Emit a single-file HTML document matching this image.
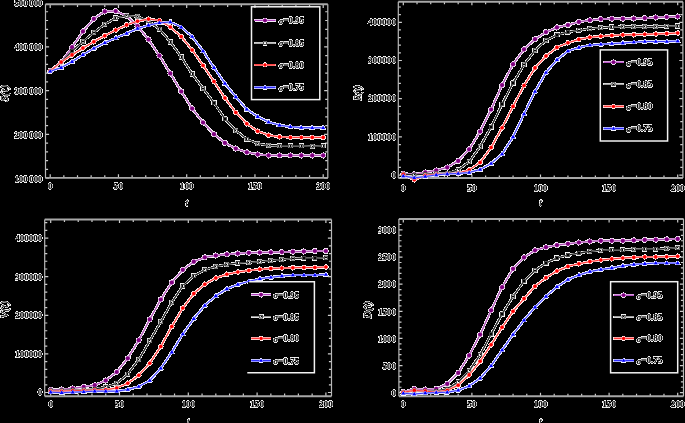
<!DOCTYPE html><html><head><meta charset="utf-8"><style>html,body{margin:0;padding:0;background:#000;width:685px;height:423px;overflow:hidden}svg{display:block}text{font-family:"Liberation Serif",serif}</style></head><body>
<svg width="685" height="423" viewBox="0 0 685 423">
<defs><filter id="wt" x="0" y="0" width="685" height="423" filterUnits="userSpaceOnUse" color-interpolation-filters="sRGB"><feColorMatrix in="SourceGraphic" type="matrix" values="0 0 0 0 0 0 0 0 0 0 0 0 0 0 0 -1000 -1000 -1000 0 3000" result="m"/><feComposite in="SourceGraphic" in2="m" operator="in"/></filter></defs>
<rect width="685" height="423" fill="#000"/>
<path d="M50.2,177.9v-3.6M50.2,4.3v3.6M63.85,177.9v-2.6M63.85,4.3v2.6M77.5,177.9v-2.6M77.5,4.3v2.6M91.15,177.9v-2.6M91.15,4.3v2.6M104.8,177.9v-2.6M104.8,4.3v2.6M118.45,177.9v-3.6M118.45,4.3v3.6M132.1,177.9v-2.6M132.1,4.3v2.6M145.75,177.9v-2.6M145.75,4.3v2.6M159.4,177.9v-2.6M159.4,4.3v2.6M173.05,177.9v-2.6M173.05,4.3v2.6M186.7,177.9v-3.6M186.7,4.3v3.6M200.35,177.9v-2.6M200.35,4.3v2.6M214,177.9v-2.6M214,4.3v2.6M227.65,177.9v-2.6M227.65,4.3v2.6M241.3,177.9v-2.6M241.3,4.3v2.6M254.95,177.9v-3.6M254.95,4.3v3.6M268.6,177.9v-2.6M268.6,4.3v2.6M282.25,177.9v-2.6M282.25,4.3v2.6M295.9,177.9v-2.6M295.9,4.3v2.6M309.55,177.9v-2.6M309.55,4.3v2.6M323.2,177.9v-3.6M323.2,4.3v3.6M45.5,178.2h3.6M327.8,178.2h-3.6M45.5,169.44h2.6M327.8,169.44h-2.6M45.5,160.68h2.6M327.8,160.68h-2.6M45.5,151.92h2.6M327.8,151.92h-2.6M45.5,143.16h2.6M327.8,143.16h-2.6M45.5,134.4h3.6M327.8,134.4h-3.6M45.5,125.64h2.6M327.8,125.64h-2.6M45.5,116.88h2.6M327.8,116.88h-2.6M45.5,108.12h2.6M327.8,108.12h-2.6M45.5,99.36h2.6M327.8,99.36h-2.6M45.5,90.6h3.6M327.8,90.6h-3.6M45.5,81.84h2.6M327.8,81.84h-2.6M45.5,73.08h2.6M327.8,73.08h-2.6M45.5,64.32h2.6M327.8,64.32h-2.6M45.5,55.56h2.6M327.8,55.56h-2.6M45.5,46.8h3.6M327.8,46.8h-3.6M45.5,38.04h2.6M327.8,38.04h-2.6M45.5,29.28h2.6M327.8,29.28h-2.6M45.5,20.52h2.6M327.8,20.52h-2.6M45.5,11.76h2.6M327.8,11.76h-2.6" stroke="#cccccc" stroke-width="1.2" fill="none"/>
<path d="M45.5,4.3H327.8M45.5,177.9H327.8" stroke="#a8a8a8" stroke-width="1.9" fill="none"/>
<path d="M45.5,4.3V177.9M327.8,4.3V177.9" stroke="#b8b8b8" stroke-width="1.2" fill="none"/>
<path d="M403.3,178v-3.6M403.3,1.7v3.6M417.02,178v-2.6M417.02,1.7v2.6M430.74,178v-2.6M430.74,1.7v2.6M444.46,178v-2.6M444.46,1.7v2.6M458.18,178v-2.6M458.18,1.7v2.6M471.9,178v-3.6M471.9,1.7v3.6M485.62,178v-2.6M485.62,1.7v2.6M499.34,178v-2.6M499.34,1.7v2.6M513.06,178v-2.6M513.06,1.7v2.6M526.78,178v-2.6M526.78,1.7v2.6M540.5,178v-3.6M540.5,1.7v3.6M554.22,178v-2.6M554.22,1.7v2.6M567.94,178v-2.6M567.94,1.7v2.6M581.66,178v-2.6M581.66,1.7v2.6M595.38,178v-2.6M595.38,1.7v2.6M609.1,178v-3.6M609.1,1.7v3.6M622.82,178v-2.6M622.82,1.7v2.6M636.54,178v-2.6M636.54,1.7v2.6M650.26,178v-2.6M650.26,1.7v2.6M663.98,178v-2.6M663.98,1.7v2.6M677.7,178v-3.6M677.7,1.7v3.6M398.3,175.1h3.6M682.9,175.1h-3.6M398.3,167.46h2.6M682.9,167.46h-2.6M398.3,159.82h2.6M682.9,159.82h-2.6M398.3,152.18h2.6M682.9,152.18h-2.6M398.3,144.54h2.6M682.9,144.54h-2.6M398.3,136.9h3.6M682.9,136.9h-3.6M398.3,129.26h2.6M682.9,129.26h-2.6M398.3,121.62h2.6M682.9,121.62h-2.6M398.3,113.98h2.6M682.9,113.98h-2.6M398.3,106.34h2.6M682.9,106.34h-2.6M398.3,98.7h3.6M682.9,98.7h-3.6M398.3,91.06h2.6M682.9,91.06h-2.6M398.3,83.42h2.6M682.9,83.42h-2.6M398.3,75.78h2.6M682.9,75.78h-2.6M398.3,68.14h2.6M682.9,68.14h-2.6M398.3,60.5h3.6M682.9,60.5h-3.6M398.3,52.86h2.6M682.9,52.86h-2.6M398.3,45.22h2.6M682.9,45.22h-2.6M398.3,37.58h2.6M682.9,37.58h-2.6M398.3,29.94h2.6M682.9,29.94h-2.6M398.3,22.3h3.6M682.9,22.3h-3.6M398.3,14.66h2.6M682.9,14.66h-2.6M398.3,7.02h2.6M682.9,7.02h-2.6" stroke="#cccccc" stroke-width="1.2" fill="none"/>
<path d="M398.3,1.7H682.9M398.3,178H682.9" stroke="#a8a8a8" stroke-width="1.9" fill="none"/>
<path d="M398.3,1.7V178M682.9,1.7V178" stroke="#b8b8b8" stroke-width="1.2" fill="none"/>
<path d="M50.7,396.2v-3.6M50.7,219.5v3.6M64.46,396.2v-2.6M64.46,219.5v2.6M78.22,396.2v-2.6M78.22,219.5v2.6M91.98,396.2v-2.6M91.98,219.5v2.6M105.74,396.2v-2.6M105.74,219.5v2.6M119.5,396.2v-3.6M119.5,219.5v3.6M133.26,396.2v-2.6M133.26,219.5v2.6M147.02,396.2v-2.6M147.02,219.5v2.6M160.78,396.2v-2.6M160.78,219.5v2.6M174.54,396.2v-2.6M174.54,219.5v2.6M188.3,396.2v-3.6M188.3,219.5v3.6M202.06,396.2v-2.6M202.06,219.5v2.6M215.82,396.2v-2.6M215.82,219.5v2.6M229.58,396.2v-2.6M229.58,219.5v2.6M243.34,396.2v-2.6M243.34,219.5v2.6M257.1,396.2v-3.6M257.1,219.5v3.6M270.86,396.2v-2.6M270.86,219.5v2.6M284.62,396.2v-2.6M284.62,219.5v2.6M298.38,396.2v-2.6M298.38,219.5v2.6M312.14,396.2v-2.6M312.14,219.5v2.6M325.9,396.2v-3.6M325.9,219.5v3.6M44.7,392.5h3.6M331.5,392.5h-3.6M44.7,384.78h2.6M331.5,384.78h-2.6M44.7,377.06h2.6M331.5,377.06h-2.6M44.7,369.34h2.6M331.5,369.34h-2.6M44.7,361.62h2.6M331.5,361.62h-2.6M44.7,353.9h3.6M331.5,353.9h-3.6M44.7,346.18h2.6M331.5,346.18h-2.6M44.7,338.46h2.6M331.5,338.46h-2.6M44.7,330.74h2.6M331.5,330.74h-2.6M44.7,323.02h2.6M331.5,323.02h-2.6M44.7,315.3h3.6M331.5,315.3h-3.6M44.7,307.58h2.6M331.5,307.58h-2.6M44.7,299.86h2.6M331.5,299.86h-2.6M44.7,292.14h2.6M331.5,292.14h-2.6M44.7,284.42h2.6M331.5,284.42h-2.6M44.7,276.7h3.6M331.5,276.7h-3.6M44.7,268.98h2.6M331.5,268.98h-2.6M44.7,261.26h2.6M331.5,261.26h-2.6M44.7,253.54h2.6M331.5,253.54h-2.6M44.7,245.82h2.6M331.5,245.82h-2.6M44.7,238.1h3.6M331.5,238.1h-3.6M44.7,230.38h2.6M331.5,230.38h-2.6M44.7,222.66h2.6M331.5,222.66h-2.6" stroke="#cccccc" stroke-width="1.2" fill="none"/>
<path d="M44.7,219.5H331.5M44.7,396.2H331.5" stroke="#a8a8a8" stroke-width="1.9" fill="none"/>
<path d="M44.7,219.5V396.2M331.5,219.5V396.2" stroke="#b8b8b8" stroke-width="1.2" fill="none"/>
<path d="M403.3,396.3v-3.6M403.3,219v3.6M417.02,396.3v-2.6M417.02,219v2.6M430.74,396.3v-2.6M430.74,219v2.6M444.46,396.3v-2.6M444.46,219v2.6M458.18,396.3v-2.6M458.18,219v2.6M471.9,396.3v-3.6M471.9,219v3.6M485.62,396.3v-2.6M485.62,219v2.6M499.34,396.3v-2.6M499.34,219v2.6M513.06,396.3v-2.6M513.06,219v2.6M526.78,396.3v-2.6M526.78,219v2.6M540.5,396.3v-3.6M540.5,219v3.6M554.22,396.3v-2.6M554.22,219v2.6M567.94,396.3v-2.6M567.94,219v2.6M581.66,396.3v-2.6M581.66,219v2.6M595.38,396.3v-2.6M595.38,219v2.6M609.1,396.3v-3.6M609.1,219v3.6M622.82,396.3v-2.6M622.82,219v2.6M636.54,396.3v-2.6M636.54,219v2.6M650.26,396.3v-2.6M650.26,219v2.6M663.98,396.3v-2.6M663.98,219v2.6M677.7,396.3v-3.6M677.7,219v3.6M398.9,392.7h3.6M683.5,392.7h-3.6M398.9,387.27h2.6M683.5,387.27h-2.6M398.9,381.85h2.6M683.5,381.85h-2.6M398.9,376.42h2.6M683.5,376.42h-2.6M398.9,371h2.6M683.5,371h-2.6M398.9,365.57h3.6M683.5,365.57h-3.6M398.9,360.14h2.6M683.5,360.14h-2.6M398.9,354.72h2.6M683.5,354.72h-2.6M398.9,349.29h2.6M683.5,349.29h-2.6M398.9,343.87h2.6M683.5,343.87h-2.6M398.9,338.44h3.6M683.5,338.44h-3.6M398.9,333.01h2.6M683.5,333.01h-2.6M398.9,327.59h2.6M683.5,327.59h-2.6M398.9,322.16h2.6M683.5,322.16h-2.6M398.9,316.74h2.6M683.5,316.74h-2.6M398.9,311.31h3.6M683.5,311.31h-3.6M398.9,305.88h2.6M683.5,305.88h-2.6M398.9,300.46h2.6M683.5,300.46h-2.6M398.9,295.03h2.6M683.5,295.03h-2.6M398.9,289.61h2.6M683.5,289.61h-2.6M398.9,284.18h3.6M683.5,284.18h-3.6M398.9,278.75h2.6M683.5,278.75h-2.6M398.9,273.33h2.6M683.5,273.33h-2.6M398.9,267.9h2.6M683.5,267.9h-2.6M398.9,262.48h2.6M683.5,262.48h-2.6M398.9,257.05h3.6M683.5,257.05h-3.6M398.9,251.62h2.6M683.5,251.62h-2.6M398.9,246.2h2.6M683.5,246.2h-2.6M398.9,240.77h2.6M683.5,240.77h-2.6M398.9,235.35h2.6M683.5,235.35h-2.6M398.9,229.92h3.6M683.5,229.92h-3.6M398.9,224.49h2.6M683.5,224.49h-2.6M398.9,219.07h2.6M683.5,219.07h-2.6" stroke="#cccccc" stroke-width="1.2" fill="none"/>
<path d="M398.9,219H683.5M398.9,396.3H683.5" stroke="#a8a8a8" stroke-width="1.9" fill="none"/>
<path d="M398.9,219V396.3M683.5,219V396.3" stroke="#b8b8b8" stroke-width="1.2" fill="none"/>
<g filter="url(#wt)">
<rect width="685" height="423" fill="#fff"/>
<text transform="translate(42.5 4) scale(1.0 0.86)" text-anchor="end" font-size="8.8" style="font-weight:bold;" fill="#000" stroke="#909090" stroke-width="0.35" paint-order="stroke" stroke-linejoin="round" dominant-baseline="central">500 000</text>
<text transform="translate(42.5 47.8) scale(1.0 0.86)" text-anchor="end" font-size="8.8" style="font-weight:bold;" fill="#000" stroke="#909090" stroke-width="0.35" paint-order="stroke" stroke-linejoin="round" dominant-baseline="central">400 000</text>
<text transform="translate(42.5 91.6) scale(1.0 0.86)" text-anchor="end" font-size="8.8" style="font-weight:bold;" fill="#000" stroke="#909090" stroke-width="0.35" paint-order="stroke" stroke-linejoin="round" dominant-baseline="central">300 000</text>
<text transform="translate(42.5 135.4) scale(1.0 0.86)" text-anchor="end" font-size="8.8" style="font-weight:bold;" fill="#000" stroke="#909090" stroke-width="0.35" paint-order="stroke" stroke-linejoin="round" dominant-baseline="central">200 000</text>
<text transform="translate(42.5 179.2) scale(1.0 0.86)" text-anchor="end" font-size="8.8" style="font-weight:bold;" fill="#000" stroke="#909090" stroke-width="0.35" paint-order="stroke" stroke-linejoin="round" dominant-baseline="central">100 000</text>
<text transform="translate(50.2 186.75) scale(1.05 0.86)" text-anchor="middle" font-size="8.8" style="font-weight:bold;" fill="#000" stroke="#909090" stroke-width="0.35" paint-order="stroke" stroke-linejoin="round" dominant-baseline="central">0</text>
<text transform="translate(118.45 186.75) scale(1.05 0.86)" text-anchor="middle" font-size="8.8" style="font-weight:bold;" fill="#000" stroke="#909090" stroke-width="0.35" paint-order="stroke" stroke-linejoin="round" dominant-baseline="central">50</text>
<text transform="translate(186.7 186.75) scale(1.05 0.86)" text-anchor="middle" font-size="8.8" style="font-weight:bold;" fill="#000" stroke="#909090" stroke-width="0.35" paint-order="stroke" stroke-linejoin="round" dominant-baseline="central">100</text>
<text transform="translate(254.95 186.75) scale(1.05 0.86)" text-anchor="middle" font-size="8.8" style="font-weight:bold;" fill="#000" stroke="#909090" stroke-width="0.35" paint-order="stroke" stroke-linejoin="round" dominant-baseline="central">150</text>
<text transform="translate(323.2 186.75) scale(1.05 0.86)" text-anchor="middle" font-size="8.8" style="font-weight:bold;" fill="#000" stroke="#909090" stroke-width="0.35" paint-order="stroke" stroke-linejoin="round" dominant-baseline="central">200</text>
<text transform="translate(186.7 203.2) scale(1.0 1.0)" text-anchor="middle" font-size="9.5" style="font-style:italic;" fill="#000" stroke="#909090" stroke-width="0.35" paint-order="stroke" stroke-linejoin="round" dominant-baseline="central">t</text>
<text transform="translate(4 93.4) rotate(-90) scale(1.0 1.0)" text-anchor="middle" font-size="10.5" style="font-style:italic;" fill="#000" stroke="#909090" stroke-width="0.35" paint-order="stroke" stroke-linejoin="round" textLength="16.8" lengthAdjust="spacingAndGlyphs" dominant-baseline="central">S(t)</text>
<text transform="translate(396.1 22.25) scale(1.07 0.86)" text-anchor="end" font-size="8.8" style="font-weight:bold;" fill="#000" stroke="#909090" stroke-width="0.35" paint-order="stroke" stroke-linejoin="round" dominant-baseline="central">400000</text>
<text transform="translate(396.1 60.45) scale(1.07 0.86)" text-anchor="end" font-size="8.8" style="font-weight:bold;" fill="#000" stroke="#909090" stroke-width="0.35" paint-order="stroke" stroke-linejoin="round" dominant-baseline="central">300000</text>
<text transform="translate(396.1 98.65) scale(1.07 0.86)" text-anchor="end" font-size="8.8" style="font-weight:bold;" fill="#000" stroke="#909090" stroke-width="0.35" paint-order="stroke" stroke-linejoin="round" dominant-baseline="central">200000</text>
<text transform="translate(396.1 136.85) scale(1.07 0.86)" text-anchor="end" font-size="8.8" style="font-weight:bold;" fill="#000" stroke="#909090" stroke-width="0.35" paint-order="stroke" stroke-linejoin="round" dominant-baseline="central">100000</text>
<text transform="translate(396.1 175.05) scale(1.07 0.86)" text-anchor="end" font-size="8.8" style="font-weight:bold;" fill="#000" stroke="#909090" stroke-width="0.35" paint-order="stroke" stroke-linejoin="round" dominant-baseline="central">0</text>
<text transform="translate(403.3 187.9) scale(1.05 0.86)" text-anchor="middle" font-size="8.8" style="font-weight:bold;" fill="#000" stroke="#909090" stroke-width="0.35" paint-order="stroke" stroke-linejoin="round" dominant-baseline="central">0</text>
<text transform="translate(471.9 187.9) scale(1.05 0.86)" text-anchor="middle" font-size="8.8" style="font-weight:bold;" fill="#000" stroke="#909090" stroke-width="0.35" paint-order="stroke" stroke-linejoin="round" dominant-baseline="central">50</text>
<text transform="translate(540.5 187.9) scale(1.05 0.86)" text-anchor="middle" font-size="8.8" style="font-weight:bold;" fill="#000" stroke="#909090" stroke-width="0.35" paint-order="stroke" stroke-linejoin="round" dominant-baseline="central">100</text>
<text transform="translate(609.1 187.9) scale(1.05 0.86)" text-anchor="middle" font-size="8.8" style="font-weight:bold;" fill="#000" stroke="#909090" stroke-width="0.35" paint-order="stroke" stroke-linejoin="round" dominant-baseline="central">150</text>
<text transform="translate(677.7 187.9) scale(1.05 0.86)" text-anchor="middle" font-size="8.8" style="font-weight:bold;" fill="#000" stroke="#909090" stroke-width="0.35" paint-order="stroke" stroke-linejoin="round" dominant-baseline="central">200</text>
<text transform="translate(540.5 203.3) scale(1.0 1.0)" text-anchor="middle" font-size="9.5" style="font-style:italic;" fill="#000" stroke="#909090" stroke-width="0.35" paint-order="stroke" stroke-linejoin="round" dominant-baseline="central">t</text>
<text transform="translate(357.6 93) rotate(-90) scale(1.0 1.0)" text-anchor="middle" font-size="10.5" style="font-style:italic;" fill="#000" stroke="#909090" stroke-width="0.35" paint-order="stroke" stroke-linejoin="round" textLength="15.2" lengthAdjust="spacingAndGlyphs" dominant-baseline="central">R(t)</text>
<text transform="translate(42.3 238.7) scale(1.03 0.86)" text-anchor="end" font-size="8.8" style="font-weight:bold;" fill="#000" stroke="#909090" stroke-width="0.35" paint-order="stroke" stroke-linejoin="round" dominant-baseline="central">400000</text>
<text transform="translate(42.3 277.3) scale(1.03 0.86)" text-anchor="end" font-size="8.8" style="font-weight:bold;" fill="#000" stroke="#909090" stroke-width="0.35" paint-order="stroke" stroke-linejoin="round" dominant-baseline="central">300000</text>
<text transform="translate(42.3 315.9) scale(1.03 0.86)" text-anchor="end" font-size="8.8" style="font-weight:bold;" fill="#000" stroke="#909090" stroke-width="0.35" paint-order="stroke" stroke-linejoin="round" dominant-baseline="central">200000</text>
<text transform="translate(42.3 354.5) scale(1.03 0.86)" text-anchor="end" font-size="8.8" style="font-weight:bold;" fill="#000" stroke="#909090" stroke-width="0.35" paint-order="stroke" stroke-linejoin="round" dominant-baseline="central">100000</text>
<text transform="translate(42.3 393.1) scale(1.03 0.86)" text-anchor="end" font-size="8.8" style="font-weight:bold;" fill="#000" stroke="#909090" stroke-width="0.35" paint-order="stroke" stroke-linejoin="round" dominant-baseline="central">0</text>
<text transform="translate(50.7 403.9) scale(1.05 0.86)" text-anchor="middle" font-size="8.8" style="font-weight:bold;" fill="#000" stroke="#909090" stroke-width="0.35" paint-order="stroke" stroke-linejoin="round" dominant-baseline="central">0</text>
<text transform="translate(119.5 403.9) scale(1.05 0.86)" text-anchor="middle" font-size="8.8" style="font-weight:bold;" fill="#000" stroke="#909090" stroke-width="0.35" paint-order="stroke" stroke-linejoin="round" dominant-baseline="central">50</text>
<text transform="translate(188.3 403.9) scale(1.05 0.86)" text-anchor="middle" font-size="8.8" style="font-weight:bold;" fill="#000" stroke="#909090" stroke-width="0.35" paint-order="stroke" stroke-linejoin="round" dominant-baseline="central">100</text>
<text transform="translate(257.1 403.9) scale(1.05 0.86)" text-anchor="middle" font-size="8.8" style="font-weight:bold;" fill="#000" stroke="#909090" stroke-width="0.35" paint-order="stroke" stroke-linejoin="round" dominant-baseline="central">150</text>
<text transform="translate(325.9 403.9) scale(1.05 0.86)" text-anchor="middle" font-size="8.8" style="font-weight:bold;" fill="#000" stroke="#909090" stroke-width="0.35" paint-order="stroke" stroke-linejoin="round" dominant-baseline="central">200</text>
<text transform="translate(188.3 421.5) scale(1.0 1.0)" text-anchor="middle" font-size="9.5" style="font-style:italic;" fill="#000" stroke="#909090" stroke-width="0.35" paint-order="stroke" stroke-linejoin="round" dominant-baseline="central">t</text>
<text transform="translate(4.7 309.65) rotate(-90) scale(1.0 1.0)" text-anchor="middle" font-size="10.5" style="font-style:italic;" fill="#000" stroke="#909090" stroke-width="0.35" paint-order="stroke" stroke-linejoin="round" textLength="17.5" lengthAdjust="spacingAndGlyphs" dominant-baseline="central">V(t)</text>
<text transform="translate(395.9 230.92) scale(1.0 0.86)" text-anchor="end" font-size="8.8" style="font-weight:bold;" fill="#000" stroke="#909090" stroke-width="0.35" paint-order="stroke" stroke-linejoin="round" dominant-baseline="central">3000</text>
<text transform="translate(395.9 258.05) scale(1.0 0.86)" text-anchor="end" font-size="8.8" style="font-weight:bold;" fill="#000" stroke="#909090" stroke-width="0.35" paint-order="stroke" stroke-linejoin="round" dominant-baseline="central">2500</text>
<text transform="translate(395.9 285.18) scale(1.0 0.86)" text-anchor="end" font-size="8.8" style="font-weight:bold;" fill="#000" stroke="#909090" stroke-width="0.35" paint-order="stroke" stroke-linejoin="round" dominant-baseline="central">2000</text>
<text transform="translate(395.9 312.31) scale(1.0 0.86)" text-anchor="end" font-size="8.8" style="font-weight:bold;" fill="#000" stroke="#909090" stroke-width="0.35" paint-order="stroke" stroke-linejoin="round" dominant-baseline="central">1500</text>
<text transform="translate(395.9 339.44) scale(1.0 0.86)" text-anchor="end" font-size="8.8" style="font-weight:bold;" fill="#000" stroke="#909090" stroke-width="0.35" paint-order="stroke" stroke-linejoin="round" dominant-baseline="central">1000</text>
<text transform="translate(395.9 366.57) scale(1.0 0.86)" text-anchor="end" font-size="8.8" style="font-weight:bold;" fill="#000" stroke="#909090" stroke-width="0.35" paint-order="stroke" stroke-linejoin="round" dominant-baseline="central">500</text>
<text transform="translate(395.9 393.7) scale(1.0 0.86)" text-anchor="end" font-size="8.8" style="font-weight:bold;" fill="#000" stroke="#909090" stroke-width="0.35" paint-order="stroke" stroke-linejoin="round" dominant-baseline="central">0</text>
<text transform="translate(403.3 404.1) scale(1.05 0.86)" text-anchor="middle" font-size="8.8" style="font-weight:bold;" fill="#000" stroke="#909090" stroke-width="0.35" paint-order="stroke" stroke-linejoin="round" dominant-baseline="central">0</text>
<text transform="translate(471.9 404.1) scale(1.05 0.86)" text-anchor="middle" font-size="8.8" style="font-weight:bold;" fill="#000" stroke="#909090" stroke-width="0.35" paint-order="stroke" stroke-linejoin="round" dominant-baseline="central">50</text>
<text transform="translate(540.5 404.1) scale(1.05 0.86)" text-anchor="middle" font-size="8.8" style="font-weight:bold;" fill="#000" stroke="#909090" stroke-width="0.35" paint-order="stroke" stroke-linejoin="round" dominant-baseline="central">100</text>
<text transform="translate(609.1 404.1) scale(1.05 0.86)" text-anchor="middle" font-size="8.8" style="font-weight:bold;" fill="#000" stroke="#909090" stroke-width="0.35" paint-order="stroke" stroke-linejoin="round" dominant-baseline="central">150</text>
<text transform="translate(677.7 404.1) scale(1.05 0.86)" text-anchor="middle" font-size="8.8" style="font-weight:bold;" fill="#000" stroke="#909090" stroke-width="0.35" paint-order="stroke" stroke-linejoin="round" dominant-baseline="central">200</text>
<text transform="translate(540.5 421.6) scale(1.0 1.0)" text-anchor="middle" font-size="9.5" style="font-style:italic;" fill="#000" stroke="#909090" stroke-width="0.35" paint-order="stroke" stroke-linejoin="round" dominant-baseline="central">t</text>
<text transform="translate(367.6 309.9) rotate(-90) scale(1.0 1.0)" text-anchor="middle" font-size="10.5" style="font-style:italic;" fill="#000" stroke="#909090" stroke-width="0.35" paint-order="stroke" stroke-linejoin="round" textLength="17.2" lengthAdjust="spacingAndGlyphs" dominant-baseline="central">D(t)</text>
<path d="M50.2,70.9 L61.12,62.1 L72.04,47.2 L82.96,31.4 L93.88,18.8 L104.8,11.4 L115.72,11.1 L126.64,16 L137.56,26.1 L148.48,39.5 L159.4,55.7 L170.32,73.4 L181.24,91.5 L192.16,108.6 L203.08,122.5 L214,134.2 L224.92,142.9 L235.84,148.6 L246.76,152.3 L257.68,154.4 L268.6,155.4 L279.52,155.4 L290.44,155.4 L301.36,155.4 L312.28,155.4 L323.2,155.4" fill="none" stroke="#dcb0e0" stroke-width="1.9" stroke-linejoin="round"/><path d="M50.2,70.9 L61.12,62.1 L72.04,47.2 L82.96,31.4 L93.88,18.8 L104.8,11.4 L115.72,11.1 L126.64,16 L137.56,26.1 L148.48,39.5 L159.4,55.7 L170.32,73.4 L181.24,91.5 L192.16,108.6 L203.08,122.5 L214,134.2 L224.92,142.9 L235.84,148.6 L246.76,152.3 L257.68,154.4 L268.6,155.4 L279.52,155.4 L290.44,155.4 L301.36,155.4 L312.28,155.4 L323.2,155.4" fill="none" stroke="#a848b0" stroke-width="1.0" stroke-linejoin="round"/><circle cx="50.2" cy="70.9" r="2.1" fill="#800080" stroke="#dcb0e0" stroke-width="1.0" paint-order="stroke"/><circle cx="61.12" cy="62.1" r="2.1" fill="#800080" stroke="#dcb0e0" stroke-width="1.0" paint-order="stroke"/><circle cx="72.04" cy="47.2" r="2.1" fill="#800080" stroke="#dcb0e0" stroke-width="1.0" paint-order="stroke"/><circle cx="82.96" cy="31.4" r="2.1" fill="#800080" stroke="#dcb0e0" stroke-width="1.0" paint-order="stroke"/><circle cx="93.88" cy="18.8" r="2.1" fill="#800080" stroke="#dcb0e0" stroke-width="1.0" paint-order="stroke"/><circle cx="104.8" cy="11.4" r="2.1" fill="#800080" stroke="#dcb0e0" stroke-width="1.0" paint-order="stroke"/><circle cx="115.72" cy="11.1" r="2.1" fill="#800080" stroke="#dcb0e0" stroke-width="1.0" paint-order="stroke"/><circle cx="126.64" cy="16" r="2.1" fill="#800080" stroke="#dcb0e0" stroke-width="1.0" paint-order="stroke"/><circle cx="137.56" cy="26.1" r="2.1" fill="#800080" stroke="#dcb0e0" stroke-width="1.0" paint-order="stroke"/><circle cx="148.48" cy="39.5" r="2.1" fill="#800080" stroke="#dcb0e0" stroke-width="1.0" paint-order="stroke"/><circle cx="159.4" cy="55.7" r="2.1" fill="#800080" stroke="#dcb0e0" stroke-width="1.0" paint-order="stroke"/><circle cx="170.32" cy="73.4" r="2.1" fill="#800080" stroke="#dcb0e0" stroke-width="1.0" paint-order="stroke"/><circle cx="181.24" cy="91.5" r="2.1" fill="#800080" stroke="#dcb0e0" stroke-width="1.0" paint-order="stroke"/><circle cx="192.16" cy="108.6" r="2.1" fill="#800080" stroke="#dcb0e0" stroke-width="1.0" paint-order="stroke"/><circle cx="203.08" cy="122.5" r="2.1" fill="#800080" stroke="#dcb0e0" stroke-width="1.0" paint-order="stroke"/><circle cx="214" cy="134.2" r="2.1" fill="#800080" stroke="#dcb0e0" stroke-width="1.0" paint-order="stroke"/><circle cx="224.92" cy="142.9" r="2.1" fill="#800080" stroke="#dcb0e0" stroke-width="1.0" paint-order="stroke"/><circle cx="235.84" cy="148.6" r="2.1" fill="#800080" stroke="#dcb0e0" stroke-width="1.0" paint-order="stroke"/><circle cx="246.76" cy="152.3" r="2.1" fill="#800080" stroke="#dcb0e0" stroke-width="1.0" paint-order="stroke"/><circle cx="257.68" cy="154.4" r="2.1" fill="#800080" stroke="#dcb0e0" stroke-width="1.0" paint-order="stroke"/><circle cx="268.6" cy="155.4" r="2.1" fill="#800080" stroke="#dcb0e0" stroke-width="1.0" paint-order="stroke"/><circle cx="279.52" cy="155.4" r="2.1" fill="#800080" stroke="#dcb0e0" stroke-width="1.0" paint-order="stroke"/><circle cx="290.44" cy="155.4" r="2.1" fill="#800080" stroke="#dcb0e0" stroke-width="1.0" paint-order="stroke"/><circle cx="301.36" cy="155.4" r="2.1" fill="#800080" stroke="#dcb0e0" stroke-width="1.0" paint-order="stroke"/><circle cx="312.28" cy="155.4" r="2.1" fill="#800080" stroke="#dcb0e0" stroke-width="1.0" paint-order="stroke"/><circle cx="323.2" cy="155.4" r="2.1" fill="#800080" stroke="#dcb0e0" stroke-width="1.0" paint-order="stroke"/>
<path d="M50.2,70.9 L61.12,62.1 L72.04,51.1 L82.96,41.5 L93.88,32.5 L104.8,24.3 L115.72,18 L126.64,15.8 L137.56,16.5 L148.48,21 L159.4,29.1 L170.32,42 L181.24,57 L192.16,74 L203.08,88.4 L214,102.9 L224.92,118.9 L235.84,130.6 L246.76,139.1 L257.68,143.7 L268.6,145.4 L279.52,145.9 L290.44,145.9 L301.36,145.9 L312.28,146.3 L323.2,145.9" fill="none" stroke="#a0a0a0" stroke-width="1.6" stroke-linejoin="round"/><path d="M50.2,70.9 L61.12,62.1 L72.04,51.1 L82.96,41.5 L93.88,32.5 L104.8,24.3 L115.72,18 L126.64,15.8 L137.56,16.5 L148.48,21 L159.4,29.1 L170.32,42 L181.24,57 L192.16,74 L203.08,88.4 L214,102.9 L224.92,118.9 L235.84,130.6 L246.76,139.1 L257.68,143.7 L268.6,145.4 L279.52,145.9 L290.44,145.9 L301.36,145.9 L312.28,146.3 L323.2,145.9" fill="none" stroke="#1c1c1c" stroke-width="1.1" stroke-linejoin="round"/><rect x="48.7" y="69.4" width="3" height="3" fill="none" stroke="#a4a4a4" stroke-width="1.2"/><rect x="48.7" y="69.4" width="3" height="3" fill="#fff" stroke="#1c1c1c" stroke-width="0.75"/><rect x="59.62" y="60.6" width="3" height="3" fill="none" stroke="#a4a4a4" stroke-width="1.2"/><rect x="59.62" y="60.6" width="3" height="3" fill="#fff" stroke="#1c1c1c" stroke-width="0.75"/><rect x="70.54" y="49.6" width="3" height="3" fill="none" stroke="#a4a4a4" stroke-width="1.2"/><rect x="70.54" y="49.6" width="3" height="3" fill="#fff" stroke="#1c1c1c" stroke-width="0.75"/><rect x="81.46" y="40" width="3" height="3" fill="none" stroke="#a4a4a4" stroke-width="1.2"/><rect x="81.46" y="40" width="3" height="3" fill="#fff" stroke="#1c1c1c" stroke-width="0.75"/><rect x="92.38" y="31" width="3" height="3" fill="none" stroke="#a4a4a4" stroke-width="1.2"/><rect x="92.38" y="31" width="3" height="3" fill="#fff" stroke="#1c1c1c" stroke-width="0.75"/><rect x="103.3" y="22.8" width="3" height="3" fill="none" stroke="#a4a4a4" stroke-width="1.2"/><rect x="103.3" y="22.8" width="3" height="3" fill="#fff" stroke="#1c1c1c" stroke-width="0.75"/><rect x="114.22" y="16.5" width="3" height="3" fill="none" stroke="#a4a4a4" stroke-width="1.2"/><rect x="114.22" y="16.5" width="3" height="3" fill="#fff" stroke="#1c1c1c" stroke-width="0.75"/><rect x="125.14" y="14.3" width="3" height="3" fill="none" stroke="#a4a4a4" stroke-width="1.2"/><rect x="125.14" y="14.3" width="3" height="3" fill="#fff" stroke="#1c1c1c" stroke-width="0.75"/><rect x="136.06" y="15" width="3" height="3" fill="none" stroke="#a4a4a4" stroke-width="1.2"/><rect x="136.06" y="15" width="3" height="3" fill="#fff" stroke="#1c1c1c" stroke-width="0.75"/><rect x="146.98" y="19.5" width="3" height="3" fill="none" stroke="#a4a4a4" stroke-width="1.2"/><rect x="146.98" y="19.5" width="3" height="3" fill="#fff" stroke="#1c1c1c" stroke-width="0.75"/><rect x="157.9" y="27.6" width="3" height="3" fill="none" stroke="#a4a4a4" stroke-width="1.2"/><rect x="157.9" y="27.6" width="3" height="3" fill="#fff" stroke="#1c1c1c" stroke-width="0.75"/><rect x="168.82" y="40.5" width="3" height="3" fill="none" stroke="#a4a4a4" stroke-width="1.2"/><rect x="168.82" y="40.5" width="3" height="3" fill="#fff" stroke="#1c1c1c" stroke-width="0.75"/><rect x="179.74" y="55.5" width="3" height="3" fill="none" stroke="#a4a4a4" stroke-width="1.2"/><rect x="179.74" y="55.5" width="3" height="3" fill="#fff" stroke="#1c1c1c" stroke-width="0.75"/><rect x="190.66" y="72.5" width="3" height="3" fill="none" stroke="#a4a4a4" stroke-width="1.2"/><rect x="190.66" y="72.5" width="3" height="3" fill="#fff" stroke="#1c1c1c" stroke-width="0.75"/><rect x="201.58" y="86.9" width="3" height="3" fill="none" stroke="#a4a4a4" stroke-width="1.2"/><rect x="201.58" y="86.9" width="3" height="3" fill="#fff" stroke="#1c1c1c" stroke-width="0.75"/><rect x="212.5" y="101.4" width="3" height="3" fill="none" stroke="#a4a4a4" stroke-width="1.2"/><rect x="212.5" y="101.4" width="3" height="3" fill="#fff" stroke="#1c1c1c" stroke-width="0.75"/><rect x="223.42" y="117.4" width="3" height="3" fill="none" stroke="#a4a4a4" stroke-width="1.2"/><rect x="223.42" y="117.4" width="3" height="3" fill="#fff" stroke="#1c1c1c" stroke-width="0.75"/><rect x="234.34" y="129.1" width="3" height="3" fill="none" stroke="#a4a4a4" stroke-width="1.2"/><rect x="234.34" y="129.1" width="3" height="3" fill="#fff" stroke="#1c1c1c" stroke-width="0.75"/><rect x="245.26" y="137.6" width="3" height="3" fill="none" stroke="#a4a4a4" stroke-width="1.2"/><rect x="245.26" y="137.6" width="3" height="3" fill="#fff" stroke="#1c1c1c" stroke-width="0.75"/><rect x="256.18" y="142.2" width="3" height="3" fill="none" stroke="#a4a4a4" stroke-width="1.2"/><rect x="256.18" y="142.2" width="3" height="3" fill="#fff" stroke="#1c1c1c" stroke-width="0.75"/><rect x="267.1" y="143.9" width="3" height="3" fill="none" stroke="#a4a4a4" stroke-width="1.2"/><rect x="267.1" y="143.9" width="3" height="3" fill="#fff" stroke="#1c1c1c" stroke-width="0.75"/><rect x="278.02" y="144.4" width="3" height="3" fill="none" stroke="#a4a4a4" stroke-width="1.2"/><rect x="278.02" y="144.4" width="3" height="3" fill="#fff" stroke="#1c1c1c" stroke-width="0.75"/><rect x="288.94" y="144.4" width="3" height="3" fill="none" stroke="#a4a4a4" stroke-width="1.2"/><rect x="288.94" y="144.4" width="3" height="3" fill="#fff" stroke="#1c1c1c" stroke-width="0.75"/><rect x="299.86" y="144.4" width="3" height="3" fill="none" stroke="#a4a4a4" stroke-width="1.2"/><rect x="299.86" y="144.4" width="3" height="3" fill="#fff" stroke="#1c1c1c" stroke-width="0.75"/><rect x="310.78" y="144.8" width="3" height="3" fill="none" stroke="#a4a4a4" stroke-width="1.2"/><rect x="310.78" y="144.8" width="3" height="3" fill="#fff" stroke="#1c1c1c" stroke-width="0.75"/><rect x="321.7" y="144.4" width="3" height="3" fill="none" stroke="#a4a4a4" stroke-width="1.2"/><rect x="321.7" y="144.4" width="3" height="3" fill="#fff" stroke="#1c1c1c" stroke-width="0.75"/>
<path d="M50.2,70.9 L61.12,62.1 L72.04,54.9 L82.96,48.1 L93.88,41.7 L104.8,35.7 L115.72,30.1 L126.64,24.9 L137.56,21.2 L148.48,19.1 L159.4,20.4 L170.32,27 L181.24,36.6 L192.16,50 L203.08,65.5 L214,81.5 L224.92,98 L235.84,112.5 L246.76,123.7 L257.68,131.2 L268.6,135.2 L279.52,136.9 L290.44,137.4 L301.36,137.4 L312.28,137.4 L323.2,137.4" fill="none" stroke="#ffbcbc" stroke-width="1.9" stroke-linejoin="round"/><path d="M50.2,70.9 L61.12,62.1 L72.04,54.9 L82.96,48.1 L93.88,41.7 L104.8,35.7 L115.72,30.1 L126.64,24.9 L137.56,21.2 L148.48,19.1 L159.4,20.4 L170.32,27 L181.24,36.6 L192.16,50 L203.08,65.5 L214,81.5 L224.92,98 L235.84,112.5 L246.76,123.7 L257.68,131.2 L268.6,135.2 L279.52,136.9 L290.44,137.4 L301.36,137.4 L312.28,137.4 L323.2,137.4" fill="none" stroke="#ff3030" stroke-width="1.0" stroke-linejoin="round"/><circle cx="50.2" cy="70.9" r="1.8" fill="#ff0000" stroke="#ffbcbc" stroke-width="1.0" paint-order="stroke"/><circle cx="61.12" cy="62.1" r="1.8" fill="#ff0000" stroke="#ffbcbc" stroke-width="1.0" paint-order="stroke"/><circle cx="72.04" cy="54.9" r="1.8" fill="#ff0000" stroke="#ffbcbc" stroke-width="1.0" paint-order="stroke"/><circle cx="82.96" cy="48.1" r="1.8" fill="#ff0000" stroke="#ffbcbc" stroke-width="1.0" paint-order="stroke"/><circle cx="93.88" cy="41.7" r="1.8" fill="#ff0000" stroke="#ffbcbc" stroke-width="1.0" paint-order="stroke"/><circle cx="104.8" cy="35.7" r="1.8" fill="#ff0000" stroke="#ffbcbc" stroke-width="1.0" paint-order="stroke"/><circle cx="115.72" cy="30.1" r="1.8" fill="#ff0000" stroke="#ffbcbc" stroke-width="1.0" paint-order="stroke"/><circle cx="126.64" cy="24.9" r="1.8" fill="#ff0000" stroke="#ffbcbc" stroke-width="1.0" paint-order="stroke"/><circle cx="137.56" cy="21.2" r="1.8" fill="#ff0000" stroke="#ffbcbc" stroke-width="1.0" paint-order="stroke"/><circle cx="148.48" cy="19.1" r="1.8" fill="#ff0000" stroke="#ffbcbc" stroke-width="1.0" paint-order="stroke"/><circle cx="159.4" cy="20.4" r="1.8" fill="#ff0000" stroke="#ffbcbc" stroke-width="1.0" paint-order="stroke"/><circle cx="170.32" cy="27" r="1.8" fill="#ff0000" stroke="#ffbcbc" stroke-width="1.0" paint-order="stroke"/><circle cx="181.24" cy="36.6" r="1.8" fill="#ff0000" stroke="#ffbcbc" stroke-width="1.0" paint-order="stroke"/><circle cx="192.16" cy="50" r="1.8" fill="#ff0000" stroke="#ffbcbc" stroke-width="1.0" paint-order="stroke"/><circle cx="203.08" cy="65.5" r="1.8" fill="#ff0000" stroke="#ffbcbc" stroke-width="1.0" paint-order="stroke"/><circle cx="214" cy="81.5" r="1.8" fill="#ff0000" stroke="#ffbcbc" stroke-width="1.0" paint-order="stroke"/><circle cx="224.92" cy="98" r="1.8" fill="#ff0000" stroke="#ffbcbc" stroke-width="1.0" paint-order="stroke"/><circle cx="235.84" cy="112.5" r="1.8" fill="#ff0000" stroke="#ffbcbc" stroke-width="1.0" paint-order="stroke"/><circle cx="246.76" cy="123.7" r="1.8" fill="#ff0000" stroke="#ffbcbc" stroke-width="1.0" paint-order="stroke"/><circle cx="257.68" cy="131.2" r="1.8" fill="#ff0000" stroke="#ffbcbc" stroke-width="1.0" paint-order="stroke"/><circle cx="268.6" cy="135.2" r="1.8" fill="#ff0000" stroke="#ffbcbc" stroke-width="1.0" paint-order="stroke"/><circle cx="279.52" cy="136.9" r="1.8" fill="#ff0000" stroke="#ffbcbc" stroke-width="1.0" paint-order="stroke"/><circle cx="290.44" cy="137.4" r="1.8" fill="#ff0000" stroke="#ffbcbc" stroke-width="1.0" paint-order="stroke"/><circle cx="301.36" cy="137.4" r="1.8" fill="#ff0000" stroke="#ffbcbc" stroke-width="1.0" paint-order="stroke"/><circle cx="312.28" cy="137.4" r="1.8" fill="#ff0000" stroke="#ffbcbc" stroke-width="1.0" paint-order="stroke"/><circle cx="323.2" cy="137.4" r="1.8" fill="#ff0000" stroke="#ffbcbc" stroke-width="1.0" paint-order="stroke"/>
<path d="M50.2,71.3 L61.12,67.7 L72.04,61.7 L82.96,54.7 L93.88,48.3 L104.8,42.8 L115.72,38 L126.64,33.4 L137.56,28.6 L148.48,25.2 L159.4,22.8 L170.32,22 L181.24,27.2 L192.16,36.6 L203.08,51.1 L214,67.7 L224.92,83.4 L235.84,96.9 L246.76,109.3 L257.68,116.7 L268.6,122 L279.52,125.2 L290.44,126.7 L301.36,127.6 L312.28,127.8 L323.2,127.8" fill="none" stroke="#bcbcff" stroke-width="1.9" stroke-linejoin="round"/><path d="M50.2,71.3 L61.12,67.7 L72.04,61.7 L82.96,54.7 L93.88,48.3 L104.8,42.8 L115.72,38 L126.64,33.4 L137.56,28.6 L148.48,25.2 L159.4,22.8 L170.32,22 L181.24,27.2 L192.16,36.6 L203.08,51.1 L214,67.7 L224.92,83.4 L235.84,96.9 L246.76,109.3 L257.68,116.7 L268.6,122 L279.52,125.2 L290.44,126.7 L301.36,127.6 L312.28,127.8 L323.2,127.8" fill="none" stroke="#3838ff" stroke-width="1.0" stroke-linejoin="round"/><polygon points="50.2,69.2 52.2,72.56 48.21,72.56" fill="#0000ff" stroke-linejoin="round" stroke="#bcbcff" stroke-width="1.0" paint-order="stroke"/><polygon points="61.12,65.6 63.12,68.96 59.13,68.96" fill="#0000ff" stroke-linejoin="round" stroke="#bcbcff" stroke-width="1.0" paint-order="stroke"/><polygon points="72.04,59.6 74.04,62.96 70.05,62.96" fill="#0000ff" stroke-linejoin="round" stroke="#bcbcff" stroke-width="1.0" paint-order="stroke"/><polygon points="82.96,52.6 84.96,55.96 80.97,55.96" fill="#0000ff" stroke-linejoin="round" stroke="#bcbcff" stroke-width="1.0" paint-order="stroke"/><polygon points="93.88,46.2 95.88,49.56 91.88,49.56" fill="#0000ff" stroke-linejoin="round" stroke="#bcbcff" stroke-width="1.0" paint-order="stroke"/><polygon points="104.8,40.7 106.8,44.06 102.81,44.06" fill="#0000ff" stroke-linejoin="round" stroke="#bcbcff" stroke-width="1.0" paint-order="stroke"/><polygon points="115.72,35.9 117.72,39.26 113.72,39.26" fill="#0000ff" stroke-linejoin="round" stroke="#bcbcff" stroke-width="1.0" paint-order="stroke"/><polygon points="126.64,31.3 128.63,34.66 124.64,34.66" fill="#0000ff" stroke-linejoin="round" stroke="#bcbcff" stroke-width="1.0" paint-order="stroke"/><polygon points="137.56,26.5 139.56,29.86 135.56,29.86" fill="#0000ff" stroke-linejoin="round" stroke="#bcbcff" stroke-width="1.0" paint-order="stroke"/><polygon points="148.48,23.1 150.48,26.46 146.49,26.46" fill="#0000ff" stroke-linejoin="round" stroke="#bcbcff" stroke-width="1.0" paint-order="stroke"/><polygon points="159.4,20.7 161.4,24.06 157.41,24.06" fill="#0000ff" stroke-linejoin="round" stroke="#bcbcff" stroke-width="1.0" paint-order="stroke"/><polygon points="170.32,19.9 172.31,23.26 168.32,23.26" fill="#0000ff" stroke-linejoin="round" stroke="#bcbcff" stroke-width="1.0" paint-order="stroke"/><polygon points="181.24,25.1 183.24,28.46 179.25,28.46" fill="#0000ff" stroke-linejoin="round" stroke="#bcbcff" stroke-width="1.0" paint-order="stroke"/><polygon points="192.16,34.5 194.16,37.86 190.17,37.86" fill="#0000ff" stroke-linejoin="round" stroke="#bcbcff" stroke-width="1.0" paint-order="stroke"/><polygon points="203.08,49 205.07,52.36 201.08,52.36" fill="#0000ff" stroke-linejoin="round" stroke="#bcbcff" stroke-width="1.0" paint-order="stroke"/><polygon points="214,65.6 216,68.96 212,68.96" fill="#0000ff" stroke-linejoin="round" stroke="#bcbcff" stroke-width="1.0" paint-order="stroke"/><polygon points="224.92,81.3 226.92,84.66 222.93,84.66" fill="#0000ff" stroke-linejoin="round" stroke="#bcbcff" stroke-width="1.0" paint-order="stroke"/><polygon points="235.84,94.8 237.83,98.16 233.84,98.16" fill="#0000ff" stroke-linejoin="round" stroke="#bcbcff" stroke-width="1.0" paint-order="stroke"/><polygon points="246.76,107.2 248.75,110.56 244.76,110.56" fill="#0000ff" stroke-linejoin="round" stroke="#bcbcff" stroke-width="1.0" paint-order="stroke"/><polygon points="257.68,114.6 259.68,117.96 255.69,117.96" fill="#0000ff" stroke-linejoin="round" stroke="#bcbcff" stroke-width="1.0" paint-order="stroke"/><polygon points="268.6,119.9 270.6,123.26 266.61,123.26" fill="#0000ff" stroke-linejoin="round" stroke="#bcbcff" stroke-width="1.0" paint-order="stroke"/><polygon points="279.52,123.1 281.51,126.46 277.52,126.46" fill="#0000ff" stroke-linejoin="round" stroke="#bcbcff" stroke-width="1.0" paint-order="stroke"/><polygon points="290.44,124.6 292.44,127.96 288.44,127.96" fill="#0000ff" stroke-linejoin="round" stroke="#bcbcff" stroke-width="1.0" paint-order="stroke"/><polygon points="301.36,125.5 303.36,128.86 299.37,128.86" fill="#0000ff" stroke-linejoin="round" stroke="#bcbcff" stroke-width="1.0" paint-order="stroke"/><polygon points="312.28,125.7 314.27,129.06 310.28,129.06" fill="#0000ff" stroke-linejoin="round" stroke="#bcbcff" stroke-width="1.0" paint-order="stroke"/><polygon points="323.2,125.7 325.19,129.06 321.2,129.06" fill="#0000ff" stroke-linejoin="round" stroke="#bcbcff" stroke-width="1.0" paint-order="stroke"/>
<path d="M403.3,173.7 L414.28,174.3 L425.25,172.4 L436.23,170.4 L447.2,167.4 L458.18,160.9 L469.16,149.3 L480.13,131.5 L491.11,109.5 L502.08,85.1 L513.06,64.2 L524.04,49.3 L535.01,39.2 L545.99,32.1 L556.96,27.4 L567.94,25 L578.92,21.9 L589.89,20.2 L600.87,19.1 L611.84,18.7 L622.82,18.7 L633.8,18.5 L644.77,18.1 L655.75,17.4 L666.72,17 L677.7,16.6" fill="none" stroke="#dcb0e0" stroke-width="1.9" stroke-linejoin="round"/><path d="M403.3,173.7 L414.28,174.3 L425.25,172.4 L436.23,170.4 L447.2,167.4 L458.18,160.9 L469.16,149.3 L480.13,131.5 L491.11,109.5 L502.08,85.1 L513.06,64.2 L524.04,49.3 L535.01,39.2 L545.99,32.1 L556.96,27.4 L567.94,25 L578.92,21.9 L589.89,20.2 L600.87,19.1 L611.84,18.7 L622.82,18.7 L633.8,18.5 L644.77,18.1 L655.75,17.4 L666.72,17 L677.7,16.6" fill="none" stroke="#a848b0" stroke-width="1.0" stroke-linejoin="round"/><circle cx="403.3" cy="173.7" r="2.1" fill="#800080" stroke="#dcb0e0" stroke-width="1.0" paint-order="stroke"/><circle cx="414.28" cy="174.3" r="2.1" fill="#800080" stroke="#dcb0e0" stroke-width="1.0" paint-order="stroke"/><circle cx="425.25" cy="172.4" r="2.1" fill="#800080" stroke="#dcb0e0" stroke-width="1.0" paint-order="stroke"/><circle cx="436.23" cy="170.4" r="2.1" fill="#800080" stroke="#dcb0e0" stroke-width="1.0" paint-order="stroke"/><circle cx="447.2" cy="167.4" r="2.1" fill="#800080" stroke="#dcb0e0" stroke-width="1.0" paint-order="stroke"/><circle cx="458.18" cy="160.9" r="2.1" fill="#800080" stroke="#dcb0e0" stroke-width="1.0" paint-order="stroke"/><circle cx="469.16" cy="149.3" r="2.1" fill="#800080" stroke="#dcb0e0" stroke-width="1.0" paint-order="stroke"/><circle cx="480.13" cy="131.5" r="2.1" fill="#800080" stroke="#dcb0e0" stroke-width="1.0" paint-order="stroke"/><circle cx="491.11" cy="109.5" r="2.1" fill="#800080" stroke="#dcb0e0" stroke-width="1.0" paint-order="stroke"/><circle cx="502.08" cy="85.1" r="2.1" fill="#800080" stroke="#dcb0e0" stroke-width="1.0" paint-order="stroke"/><circle cx="513.06" cy="64.2" r="2.1" fill="#800080" stroke="#dcb0e0" stroke-width="1.0" paint-order="stroke"/><circle cx="524.04" cy="49.3" r="2.1" fill="#800080" stroke="#dcb0e0" stroke-width="1.0" paint-order="stroke"/><circle cx="535.01" cy="39.2" r="2.1" fill="#800080" stroke="#dcb0e0" stroke-width="1.0" paint-order="stroke"/><circle cx="545.99" cy="32.1" r="2.1" fill="#800080" stroke="#dcb0e0" stroke-width="1.0" paint-order="stroke"/><circle cx="556.96" cy="27.4" r="2.1" fill="#800080" stroke="#dcb0e0" stroke-width="1.0" paint-order="stroke"/><circle cx="567.94" cy="25" r="2.1" fill="#800080" stroke="#dcb0e0" stroke-width="1.0" paint-order="stroke"/><circle cx="578.92" cy="21.9" r="2.1" fill="#800080" stroke="#dcb0e0" stroke-width="1.0" paint-order="stroke"/><circle cx="589.89" cy="20.2" r="2.1" fill="#800080" stroke="#dcb0e0" stroke-width="1.0" paint-order="stroke"/><circle cx="600.87" cy="19.1" r="2.1" fill="#800080" stroke="#dcb0e0" stroke-width="1.0" paint-order="stroke"/><circle cx="611.84" cy="18.7" r="2.1" fill="#800080" stroke="#dcb0e0" stroke-width="1.0" paint-order="stroke"/><circle cx="622.82" cy="18.7" r="2.1" fill="#800080" stroke="#dcb0e0" stroke-width="1.0" paint-order="stroke"/><circle cx="633.8" cy="18.5" r="2.1" fill="#800080" stroke="#dcb0e0" stroke-width="1.0" paint-order="stroke"/><circle cx="644.77" cy="18.1" r="2.1" fill="#800080" stroke="#dcb0e0" stroke-width="1.0" paint-order="stroke"/><circle cx="655.75" cy="17.4" r="2.1" fill="#800080" stroke="#dcb0e0" stroke-width="1.0" paint-order="stroke"/><circle cx="666.72" cy="17" r="2.1" fill="#800080" stroke="#dcb0e0" stroke-width="1.0" paint-order="stroke"/><circle cx="677.7" cy="16.6" r="2.1" fill="#800080" stroke="#dcb0e0" stroke-width="1.0" paint-order="stroke"/>
<path d="M403.3,174.2 L414.28,174.8 L425.25,174.2 L436.23,173.5 L447.2,173.1 L458.18,169.9 L469.16,161.7 L480.13,146.6 L491.11,127 L502.08,104.1 L513.06,83 L524.04,64.6 L535.01,50.4 L545.99,40.4 L556.96,34.9 L567.94,32.1 L578.92,30.2 L589.89,28.7 L600.87,27.7 L611.84,27 L622.82,26.6 L633.8,26.6 L644.77,26.6 L655.75,26.6 L666.72,26.2 L677.7,26" fill="none" stroke="#a0a0a0" stroke-width="1.6" stroke-linejoin="round"/><path d="M403.3,174.2 L414.28,174.8 L425.25,174.2 L436.23,173.5 L447.2,173.1 L458.18,169.9 L469.16,161.7 L480.13,146.6 L491.11,127 L502.08,104.1 L513.06,83 L524.04,64.6 L535.01,50.4 L545.99,40.4 L556.96,34.9 L567.94,32.1 L578.92,30.2 L589.89,28.7 L600.87,27.7 L611.84,27 L622.82,26.6 L633.8,26.6 L644.77,26.6 L655.75,26.6 L666.72,26.2 L677.7,26" fill="none" stroke="#1c1c1c" stroke-width="1.1" stroke-linejoin="round"/><rect x="401.8" y="172.7" width="3" height="3" fill="none" stroke="#a4a4a4" stroke-width="1.2"/><rect x="401.8" y="172.7" width="3" height="3" fill="#fff" stroke="#1c1c1c" stroke-width="0.75"/><rect x="412.78" y="173.3" width="3" height="3" fill="none" stroke="#a4a4a4" stroke-width="1.2"/><rect x="412.78" y="173.3" width="3" height="3" fill="#fff" stroke="#1c1c1c" stroke-width="0.75"/><rect x="423.75" y="172.7" width="3" height="3" fill="none" stroke="#a4a4a4" stroke-width="1.2"/><rect x="423.75" y="172.7" width="3" height="3" fill="#fff" stroke="#1c1c1c" stroke-width="0.75"/><rect x="434.73" y="172" width="3" height="3" fill="none" stroke="#a4a4a4" stroke-width="1.2"/><rect x="434.73" y="172" width="3" height="3" fill="#fff" stroke="#1c1c1c" stroke-width="0.75"/><rect x="445.7" y="171.6" width="3" height="3" fill="none" stroke="#a4a4a4" stroke-width="1.2"/><rect x="445.7" y="171.6" width="3" height="3" fill="#fff" stroke="#1c1c1c" stroke-width="0.75"/><rect x="456.68" y="168.4" width="3" height="3" fill="none" stroke="#a4a4a4" stroke-width="1.2"/><rect x="456.68" y="168.4" width="3" height="3" fill="#fff" stroke="#1c1c1c" stroke-width="0.75"/><rect x="467.66" y="160.2" width="3" height="3" fill="none" stroke="#a4a4a4" stroke-width="1.2"/><rect x="467.66" y="160.2" width="3" height="3" fill="#fff" stroke="#1c1c1c" stroke-width="0.75"/><rect x="478.63" y="145.1" width="3" height="3" fill="none" stroke="#a4a4a4" stroke-width="1.2"/><rect x="478.63" y="145.1" width="3" height="3" fill="#fff" stroke="#1c1c1c" stroke-width="0.75"/><rect x="489.61" y="125.5" width="3" height="3" fill="none" stroke="#a4a4a4" stroke-width="1.2"/><rect x="489.61" y="125.5" width="3" height="3" fill="#fff" stroke="#1c1c1c" stroke-width="0.75"/><rect x="500.58" y="102.6" width="3" height="3" fill="none" stroke="#a4a4a4" stroke-width="1.2"/><rect x="500.58" y="102.6" width="3" height="3" fill="#fff" stroke="#1c1c1c" stroke-width="0.75"/><rect x="511.56" y="81.5" width="3" height="3" fill="none" stroke="#a4a4a4" stroke-width="1.2"/><rect x="511.56" y="81.5" width="3" height="3" fill="#fff" stroke="#1c1c1c" stroke-width="0.75"/><rect x="522.54" y="63.1" width="3" height="3" fill="none" stroke="#a4a4a4" stroke-width="1.2"/><rect x="522.54" y="63.1" width="3" height="3" fill="#fff" stroke="#1c1c1c" stroke-width="0.75"/><rect x="533.51" y="48.9" width="3" height="3" fill="none" stroke="#a4a4a4" stroke-width="1.2"/><rect x="533.51" y="48.9" width="3" height="3" fill="#fff" stroke="#1c1c1c" stroke-width="0.75"/><rect x="544.49" y="38.9" width="3" height="3" fill="none" stroke="#a4a4a4" stroke-width="1.2"/><rect x="544.49" y="38.9" width="3" height="3" fill="#fff" stroke="#1c1c1c" stroke-width="0.75"/><rect x="555.46" y="33.4" width="3" height="3" fill="none" stroke="#a4a4a4" stroke-width="1.2"/><rect x="555.46" y="33.4" width="3" height="3" fill="#fff" stroke="#1c1c1c" stroke-width="0.75"/><rect x="566.44" y="30.6" width="3" height="3" fill="none" stroke="#a4a4a4" stroke-width="1.2"/><rect x="566.44" y="30.6" width="3" height="3" fill="#fff" stroke="#1c1c1c" stroke-width="0.75"/><rect x="577.42" y="28.7" width="3" height="3" fill="none" stroke="#a4a4a4" stroke-width="1.2"/><rect x="577.42" y="28.7" width="3" height="3" fill="#fff" stroke="#1c1c1c" stroke-width="0.75"/><rect x="588.39" y="27.2" width="3" height="3" fill="none" stroke="#a4a4a4" stroke-width="1.2"/><rect x="588.39" y="27.2" width="3" height="3" fill="#fff" stroke="#1c1c1c" stroke-width="0.75"/><rect x="599.37" y="26.2" width="3" height="3" fill="none" stroke="#a4a4a4" stroke-width="1.2"/><rect x="599.37" y="26.2" width="3" height="3" fill="#fff" stroke="#1c1c1c" stroke-width="0.75"/><rect x="610.34" y="25.5" width="3" height="3" fill="none" stroke="#a4a4a4" stroke-width="1.2"/><rect x="610.34" y="25.5" width="3" height="3" fill="#fff" stroke="#1c1c1c" stroke-width="0.75"/><rect x="621.32" y="25.1" width="3" height="3" fill="none" stroke="#a4a4a4" stroke-width="1.2"/><rect x="621.32" y="25.1" width="3" height="3" fill="#fff" stroke="#1c1c1c" stroke-width="0.75"/><rect x="632.3" y="25.1" width="3" height="3" fill="none" stroke="#a4a4a4" stroke-width="1.2"/><rect x="632.3" y="25.1" width="3" height="3" fill="#fff" stroke="#1c1c1c" stroke-width="0.75"/><rect x="643.27" y="25.1" width="3" height="3" fill="none" stroke="#a4a4a4" stroke-width="1.2"/><rect x="643.27" y="25.1" width="3" height="3" fill="#fff" stroke="#1c1c1c" stroke-width="0.75"/><rect x="654.25" y="25.1" width="3" height="3" fill="none" stroke="#a4a4a4" stroke-width="1.2"/><rect x="654.25" y="25.1" width="3" height="3" fill="#fff" stroke="#1c1c1c" stroke-width="0.75"/><rect x="665.22" y="24.7" width="3" height="3" fill="none" stroke="#a4a4a4" stroke-width="1.2"/><rect x="665.22" y="24.7" width="3" height="3" fill="#fff" stroke="#1c1c1c" stroke-width="0.75"/><rect x="676.2" y="24.5" width="3" height="3" fill="none" stroke="#a4a4a4" stroke-width="1.2"/><rect x="676.2" y="24.5" width="3" height="3" fill="#fff" stroke="#1c1c1c" stroke-width="0.75"/>
<path d="M403.3,174.3 L414.28,179.8 L425.25,175.4 L436.23,174.3 L447.2,173.7 L458.18,173.1 L469.16,170 L480.13,162.5 L491.11,147.5 L502.08,127.8 L513.06,106.4 L524.04,85.5 L535.01,67.9 L545.99,56 L556.96,47.4 L567.94,42.8 L578.92,39.4 L589.89,37.2 L600.87,36.2 L611.84,35.5 L622.82,34.9 L633.8,34.7 L644.77,34.3 L655.75,34 L666.72,33.6 L677.7,33" fill="none" stroke="#ffbcbc" stroke-width="1.9" stroke-linejoin="round"/><path d="M403.3,174.3 L414.28,179.8 L425.25,175.4 L436.23,174.3 L447.2,173.7 L458.18,173.1 L469.16,170 L480.13,162.5 L491.11,147.5 L502.08,127.8 L513.06,106.4 L524.04,85.5 L535.01,67.9 L545.99,56 L556.96,47.4 L567.94,42.8 L578.92,39.4 L589.89,37.2 L600.87,36.2 L611.84,35.5 L622.82,34.9 L633.8,34.7 L644.77,34.3 L655.75,34 L666.72,33.6 L677.7,33" fill="none" stroke="#ff3030" stroke-width="1.0" stroke-linejoin="round"/><circle cx="403.3" cy="174.3" r="1.8" fill="#ff0000" stroke="#ffbcbc" stroke-width="1.0" paint-order="stroke"/><circle cx="414.28" cy="179.8" r="1.8" fill="#ff0000" stroke="#ffbcbc" stroke-width="1.0" paint-order="stroke"/><circle cx="425.25" cy="175.4" r="1.8" fill="#ff0000" stroke="#ffbcbc" stroke-width="1.0" paint-order="stroke"/><circle cx="436.23" cy="174.3" r="1.8" fill="#ff0000" stroke="#ffbcbc" stroke-width="1.0" paint-order="stroke"/><circle cx="447.2" cy="173.7" r="1.8" fill="#ff0000" stroke="#ffbcbc" stroke-width="1.0" paint-order="stroke"/><circle cx="458.18" cy="173.1" r="1.8" fill="#ff0000" stroke="#ffbcbc" stroke-width="1.0" paint-order="stroke"/><circle cx="469.16" cy="170" r="1.8" fill="#ff0000" stroke="#ffbcbc" stroke-width="1.0" paint-order="stroke"/><circle cx="480.13" cy="162.5" r="1.8" fill="#ff0000" stroke="#ffbcbc" stroke-width="1.0" paint-order="stroke"/><circle cx="491.11" cy="147.5" r="1.8" fill="#ff0000" stroke="#ffbcbc" stroke-width="1.0" paint-order="stroke"/><circle cx="502.08" cy="127.8" r="1.8" fill="#ff0000" stroke="#ffbcbc" stroke-width="1.0" paint-order="stroke"/><circle cx="513.06" cy="106.4" r="1.8" fill="#ff0000" stroke="#ffbcbc" stroke-width="1.0" paint-order="stroke"/><circle cx="524.04" cy="85.5" r="1.8" fill="#ff0000" stroke="#ffbcbc" stroke-width="1.0" paint-order="stroke"/><circle cx="535.01" cy="67.9" r="1.8" fill="#ff0000" stroke="#ffbcbc" stroke-width="1.0" paint-order="stroke"/><circle cx="545.99" cy="56" r="1.8" fill="#ff0000" stroke="#ffbcbc" stroke-width="1.0" paint-order="stroke"/><circle cx="556.96" cy="47.4" r="1.8" fill="#ff0000" stroke="#ffbcbc" stroke-width="1.0" paint-order="stroke"/><circle cx="567.94" cy="42.8" r="1.8" fill="#ff0000" stroke="#ffbcbc" stroke-width="1.0" paint-order="stroke"/><circle cx="578.92" cy="39.4" r="1.8" fill="#ff0000" stroke="#ffbcbc" stroke-width="1.0" paint-order="stroke"/><circle cx="589.89" cy="37.2" r="1.8" fill="#ff0000" stroke="#ffbcbc" stroke-width="1.0" paint-order="stroke"/><circle cx="600.87" cy="36.2" r="1.8" fill="#ff0000" stroke="#ffbcbc" stroke-width="1.0" paint-order="stroke"/><circle cx="611.84" cy="35.5" r="1.8" fill="#ff0000" stroke="#ffbcbc" stroke-width="1.0" paint-order="stroke"/><circle cx="622.82" cy="34.9" r="1.8" fill="#ff0000" stroke="#ffbcbc" stroke-width="1.0" paint-order="stroke"/><circle cx="633.8" cy="34.7" r="1.8" fill="#ff0000" stroke="#ffbcbc" stroke-width="1.0" paint-order="stroke"/><circle cx="644.77" cy="34.3" r="1.8" fill="#ff0000" stroke="#ffbcbc" stroke-width="1.0" paint-order="stroke"/><circle cx="655.75" cy="34" r="1.8" fill="#ff0000" stroke="#ffbcbc" stroke-width="1.0" paint-order="stroke"/><circle cx="666.72" cy="33.6" r="1.8" fill="#ff0000" stroke="#ffbcbc" stroke-width="1.0" paint-order="stroke"/><circle cx="677.7" cy="33" r="1.8" fill="#ff0000" stroke="#ffbcbc" stroke-width="1.0" paint-order="stroke"/>
<path d="M403.3,176 L414.28,177.8 L425.25,176.6 L436.23,174.9 L447.2,173.9 L458.18,173.5 L469.16,172.5 L480.13,169.5 L491.11,163.5 L502.08,154 L513.06,136.9 L524.04,113.9 L535.01,91.6 L545.99,72.6 L556.96,59.8 L567.94,51.1 L578.92,47.4 L589.89,45.1 L600.87,44.3 L611.84,43.6 L622.82,43 L633.8,42.1 L644.77,41.5 L655.75,41.5 L666.72,41.5 L677.7,41.1" fill="none" stroke="#bcbcff" stroke-width="1.9" stroke-linejoin="round"/><path d="M403.3,176 L414.28,177.8 L425.25,176.6 L436.23,174.9 L447.2,173.9 L458.18,173.5 L469.16,172.5 L480.13,169.5 L491.11,163.5 L502.08,154 L513.06,136.9 L524.04,113.9 L535.01,91.6 L545.99,72.6 L556.96,59.8 L567.94,51.1 L578.92,47.4 L589.89,45.1 L600.87,44.3 L611.84,43.6 L622.82,43 L633.8,42.1 L644.77,41.5 L655.75,41.5 L666.72,41.5 L677.7,41.1" fill="none" stroke="#3838ff" stroke-width="1.0" stroke-linejoin="round"/><polygon points="403.3,173.9 405.3,177.26 401.31,177.26" fill="#0000ff" stroke-linejoin="round" stroke="#bcbcff" stroke-width="1.0" paint-order="stroke"/><polygon points="414.28,175.7 416.27,179.06 412.28,179.06" fill="#0000ff" stroke-linejoin="round" stroke="#bcbcff" stroke-width="1.0" paint-order="stroke"/><polygon points="425.25,174.5 427.25,177.86 423.26,177.86" fill="#0000ff" stroke-linejoin="round" stroke="#bcbcff" stroke-width="1.0" paint-order="stroke"/><polygon points="436.23,172.8 438.22,176.16 434.23,176.16" fill="#0000ff" stroke-linejoin="round" stroke="#bcbcff" stroke-width="1.0" paint-order="stroke"/><polygon points="447.2,171.8 449.2,175.16 445.21,175.16" fill="#0000ff" stroke-linejoin="round" stroke="#bcbcff" stroke-width="1.0" paint-order="stroke"/><polygon points="458.18,171.4 460.18,174.76 456.19,174.76" fill="#0000ff" stroke-linejoin="round" stroke="#bcbcff" stroke-width="1.0" paint-order="stroke"/><polygon points="469.16,170.4 471.15,173.76 467.16,173.76" fill="#0000ff" stroke-linejoin="round" stroke="#bcbcff" stroke-width="1.0" paint-order="stroke"/><polygon points="480.13,167.4 482.13,170.76 478.14,170.76" fill="#0000ff" stroke-linejoin="round" stroke="#bcbcff" stroke-width="1.0" paint-order="stroke"/><polygon points="491.11,161.4 493.1,164.76 489.11,164.76" fill="#0000ff" stroke-linejoin="round" stroke="#bcbcff" stroke-width="1.0" paint-order="stroke"/><polygon points="502.08,151.9 504.08,155.26 500.09,155.26" fill="#0000ff" stroke-linejoin="round" stroke="#bcbcff" stroke-width="1.0" paint-order="stroke"/><polygon points="513.06,134.8 515.06,138.16 511.07,138.16" fill="#0000ff" stroke-linejoin="round" stroke="#bcbcff" stroke-width="1.0" paint-order="stroke"/><polygon points="524.04,111.8 526.03,115.16 522.04,115.16" fill="#0000ff" stroke-linejoin="round" stroke="#bcbcff" stroke-width="1.0" paint-order="stroke"/><polygon points="535.01,89.5 537.01,92.86 533.02,92.86" fill="#0000ff" stroke-linejoin="round" stroke="#bcbcff" stroke-width="1.0" paint-order="stroke"/><polygon points="545.99,70.5 547.98,73.86 543.99,73.86" fill="#0000ff" stroke-linejoin="round" stroke="#bcbcff" stroke-width="1.0" paint-order="stroke"/><polygon points="556.96,57.7 558.96,61.06 554.97,61.06" fill="#0000ff" stroke-linejoin="round" stroke="#bcbcff" stroke-width="1.0" paint-order="stroke"/><polygon points="567.94,49 569.94,52.36 565.95,52.36" fill="#0000ff" stroke-linejoin="round" stroke="#bcbcff" stroke-width="1.0" paint-order="stroke"/><polygon points="578.92,45.3 580.91,48.66 576.92,48.66" fill="#0000ff" stroke-linejoin="round" stroke="#bcbcff" stroke-width="1.0" paint-order="stroke"/><polygon points="589.89,43 591.89,46.36 587.9,46.36" fill="#0000ff" stroke-linejoin="round" stroke="#bcbcff" stroke-width="1.0" paint-order="stroke"/><polygon points="600.87,42.2 602.86,45.56 598.87,45.56" fill="#0000ff" stroke-linejoin="round" stroke="#bcbcff" stroke-width="1.0" paint-order="stroke"/><polygon points="611.84,41.5 613.84,44.86 609.85,44.86" fill="#0000ff" stroke-linejoin="round" stroke="#bcbcff" stroke-width="1.0" paint-order="stroke"/><polygon points="622.82,40.9 624.82,44.26 620.83,44.26" fill="#0000ff" stroke-linejoin="round" stroke="#bcbcff" stroke-width="1.0" paint-order="stroke"/><polygon points="633.8,40 635.79,43.36 631.8,43.36" fill="#0000ff" stroke-linejoin="round" stroke="#bcbcff" stroke-width="1.0" paint-order="stroke"/><polygon points="644.77,39.4 646.77,42.76 642.78,42.76" fill="#0000ff" stroke-linejoin="round" stroke="#bcbcff" stroke-width="1.0" paint-order="stroke"/><polygon points="655.75,39.4 657.74,42.76 653.75,42.76" fill="#0000ff" stroke-linejoin="round" stroke="#bcbcff" stroke-width="1.0" paint-order="stroke"/><polygon points="666.72,39.4 668.72,42.76 664.73,42.76" fill="#0000ff" stroke-linejoin="round" stroke="#bcbcff" stroke-width="1.0" paint-order="stroke"/><polygon points="677.7,39 679.7,42.36 675.71,42.36" fill="#0000ff" stroke-linejoin="round" stroke="#bcbcff" stroke-width="1.0" paint-order="stroke"/>
<path d="M50.7,389.7 L61.71,389.5 L72.72,388.4 L83.72,386.9 L94.73,385.2 L105.74,380.5 L116.75,372 L127.76,358.3 L138.76,340.2 L149.77,319.4 L160.78,299.5 L171.79,282.5 L182.8,269.8 L193.8,261.7 L204.81,257.3 L215.82,255.5 L226.83,254.3 L237.84,253.5 L248.84,252.8 L259.85,252.5 L270.86,252.3 L281.87,252.1 L292.88,251.7 L303.88,251.5 L314.89,251 L325.9,251" fill="none" stroke="#dcb0e0" stroke-width="1.9" stroke-linejoin="round"/><path d="M50.7,389.7 L61.71,389.5 L72.72,388.4 L83.72,386.9 L94.73,385.2 L105.74,380.5 L116.75,372 L127.76,358.3 L138.76,340.2 L149.77,319.4 L160.78,299.5 L171.79,282.5 L182.8,269.8 L193.8,261.7 L204.81,257.3 L215.82,255.5 L226.83,254.3 L237.84,253.5 L248.84,252.8 L259.85,252.5 L270.86,252.3 L281.87,252.1 L292.88,251.7 L303.88,251.5 L314.89,251 L325.9,251" fill="none" stroke="#a848b0" stroke-width="1.0" stroke-linejoin="round"/><circle cx="50.7" cy="389.7" r="2.1" fill="#800080" stroke="#dcb0e0" stroke-width="1.0" paint-order="stroke"/><circle cx="61.71" cy="389.5" r="2.1" fill="#800080" stroke="#dcb0e0" stroke-width="1.0" paint-order="stroke"/><circle cx="72.72" cy="388.4" r="2.1" fill="#800080" stroke="#dcb0e0" stroke-width="1.0" paint-order="stroke"/><circle cx="83.72" cy="386.9" r="2.1" fill="#800080" stroke="#dcb0e0" stroke-width="1.0" paint-order="stroke"/><circle cx="94.73" cy="385.2" r="2.1" fill="#800080" stroke="#dcb0e0" stroke-width="1.0" paint-order="stroke"/><circle cx="105.74" cy="380.5" r="2.1" fill="#800080" stroke="#dcb0e0" stroke-width="1.0" paint-order="stroke"/><circle cx="116.75" cy="372" r="2.1" fill="#800080" stroke="#dcb0e0" stroke-width="1.0" paint-order="stroke"/><circle cx="127.76" cy="358.3" r="2.1" fill="#800080" stroke="#dcb0e0" stroke-width="1.0" paint-order="stroke"/><circle cx="138.76" cy="340.2" r="2.1" fill="#800080" stroke="#dcb0e0" stroke-width="1.0" paint-order="stroke"/><circle cx="149.77" cy="319.4" r="2.1" fill="#800080" stroke="#dcb0e0" stroke-width="1.0" paint-order="stroke"/><circle cx="160.78" cy="299.5" r="2.1" fill="#800080" stroke="#dcb0e0" stroke-width="1.0" paint-order="stroke"/><circle cx="171.79" cy="282.5" r="2.1" fill="#800080" stroke="#dcb0e0" stroke-width="1.0" paint-order="stroke"/><circle cx="182.8" cy="269.8" r="2.1" fill="#800080" stroke="#dcb0e0" stroke-width="1.0" paint-order="stroke"/><circle cx="193.8" cy="261.7" r="2.1" fill="#800080" stroke="#dcb0e0" stroke-width="1.0" paint-order="stroke"/><circle cx="204.81" cy="257.3" r="2.1" fill="#800080" stroke="#dcb0e0" stroke-width="1.0" paint-order="stroke"/><circle cx="215.82" cy="255.5" r="2.1" fill="#800080" stroke="#dcb0e0" stroke-width="1.0" paint-order="stroke"/><circle cx="226.83" cy="254.3" r="2.1" fill="#800080" stroke="#dcb0e0" stroke-width="1.0" paint-order="stroke"/><circle cx="237.84" cy="253.5" r="2.1" fill="#800080" stroke="#dcb0e0" stroke-width="1.0" paint-order="stroke"/><circle cx="248.84" cy="252.8" r="2.1" fill="#800080" stroke="#dcb0e0" stroke-width="1.0" paint-order="stroke"/><circle cx="259.85" cy="252.5" r="2.1" fill="#800080" stroke="#dcb0e0" stroke-width="1.0" paint-order="stroke"/><circle cx="270.86" cy="252.3" r="2.1" fill="#800080" stroke="#dcb0e0" stroke-width="1.0" paint-order="stroke"/><circle cx="281.87" cy="252.1" r="2.1" fill="#800080" stroke="#dcb0e0" stroke-width="1.0" paint-order="stroke"/><circle cx="292.88" cy="251.7" r="2.1" fill="#800080" stroke="#dcb0e0" stroke-width="1.0" paint-order="stroke"/><circle cx="303.88" cy="251.5" r="2.1" fill="#800080" stroke="#dcb0e0" stroke-width="1.0" paint-order="stroke"/><circle cx="314.89" cy="251" r="2.1" fill="#800080" stroke="#dcb0e0" stroke-width="1.0" paint-order="stroke"/><circle cx="325.9" cy="251" r="2.1" fill="#800080" stroke="#dcb0e0" stroke-width="1.0" paint-order="stroke"/>
<path d="M50.7,390.5 L61.71,390.5 L72.72,390.1 L83.72,389.7 L94.73,389 L105.74,386.9 L116.75,383.3 L127.76,374.1 L138.76,359.6 L149.77,340.8 L160.78,321.7 L171.79,302.3 L182.8,286 L193.8,275.9 L204.81,269.8 L215.82,266.6 L226.83,264.4 L237.84,263 L248.84,262.5 L259.85,261.7 L270.86,260.6 L281.87,259.6 L292.88,258.5 L303.88,258.1 L314.89,258.1 L325.9,257.7" fill="none" stroke="#a0a0a0" stroke-width="1.6" stroke-linejoin="round"/><path d="M50.7,390.5 L61.71,390.5 L72.72,390.1 L83.72,389.7 L94.73,389 L105.74,386.9 L116.75,383.3 L127.76,374.1 L138.76,359.6 L149.77,340.8 L160.78,321.7 L171.79,302.3 L182.8,286 L193.8,275.9 L204.81,269.8 L215.82,266.6 L226.83,264.4 L237.84,263 L248.84,262.5 L259.85,261.7 L270.86,260.6 L281.87,259.6 L292.88,258.5 L303.88,258.1 L314.89,258.1 L325.9,257.7" fill="none" stroke="#1c1c1c" stroke-width="1.1" stroke-linejoin="round"/><rect x="49.2" y="389" width="3" height="3" fill="none" stroke="#a4a4a4" stroke-width="1.2"/><rect x="49.2" y="389" width="3" height="3" fill="#fff" stroke="#1c1c1c" stroke-width="0.75"/><rect x="60.21" y="389" width="3" height="3" fill="none" stroke="#a4a4a4" stroke-width="1.2"/><rect x="60.21" y="389" width="3" height="3" fill="#fff" stroke="#1c1c1c" stroke-width="0.75"/><rect x="71.22" y="388.6" width="3" height="3" fill="none" stroke="#a4a4a4" stroke-width="1.2"/><rect x="71.22" y="388.6" width="3" height="3" fill="#fff" stroke="#1c1c1c" stroke-width="0.75"/><rect x="82.22" y="388.2" width="3" height="3" fill="none" stroke="#a4a4a4" stroke-width="1.2"/><rect x="82.22" y="388.2" width="3" height="3" fill="#fff" stroke="#1c1c1c" stroke-width="0.75"/><rect x="93.23" y="387.5" width="3" height="3" fill="none" stroke="#a4a4a4" stroke-width="1.2"/><rect x="93.23" y="387.5" width="3" height="3" fill="#fff" stroke="#1c1c1c" stroke-width="0.75"/><rect x="104.24" y="385.4" width="3" height="3" fill="none" stroke="#a4a4a4" stroke-width="1.2"/><rect x="104.24" y="385.4" width="3" height="3" fill="#fff" stroke="#1c1c1c" stroke-width="0.75"/><rect x="115.25" y="381.8" width="3" height="3" fill="none" stroke="#a4a4a4" stroke-width="1.2"/><rect x="115.25" y="381.8" width="3" height="3" fill="#fff" stroke="#1c1c1c" stroke-width="0.75"/><rect x="126.26" y="372.6" width="3" height="3" fill="none" stroke="#a4a4a4" stroke-width="1.2"/><rect x="126.26" y="372.6" width="3" height="3" fill="#fff" stroke="#1c1c1c" stroke-width="0.75"/><rect x="137.26" y="358.1" width="3" height="3" fill="none" stroke="#a4a4a4" stroke-width="1.2"/><rect x="137.26" y="358.1" width="3" height="3" fill="#fff" stroke="#1c1c1c" stroke-width="0.75"/><rect x="148.27" y="339.3" width="3" height="3" fill="none" stroke="#a4a4a4" stroke-width="1.2"/><rect x="148.27" y="339.3" width="3" height="3" fill="#fff" stroke="#1c1c1c" stroke-width="0.75"/><rect x="159.28" y="320.2" width="3" height="3" fill="none" stroke="#a4a4a4" stroke-width="1.2"/><rect x="159.28" y="320.2" width="3" height="3" fill="#fff" stroke="#1c1c1c" stroke-width="0.75"/><rect x="170.29" y="300.8" width="3" height="3" fill="none" stroke="#a4a4a4" stroke-width="1.2"/><rect x="170.29" y="300.8" width="3" height="3" fill="#fff" stroke="#1c1c1c" stroke-width="0.75"/><rect x="181.3" y="284.5" width="3" height="3" fill="none" stroke="#a4a4a4" stroke-width="1.2"/><rect x="181.3" y="284.5" width="3" height="3" fill="#fff" stroke="#1c1c1c" stroke-width="0.75"/><rect x="192.3" y="274.4" width="3" height="3" fill="none" stroke="#a4a4a4" stroke-width="1.2"/><rect x="192.3" y="274.4" width="3" height="3" fill="#fff" stroke="#1c1c1c" stroke-width="0.75"/><rect x="203.31" y="268.3" width="3" height="3" fill="none" stroke="#a4a4a4" stroke-width="1.2"/><rect x="203.31" y="268.3" width="3" height="3" fill="#fff" stroke="#1c1c1c" stroke-width="0.75"/><rect x="214.32" y="265.1" width="3" height="3" fill="none" stroke="#a4a4a4" stroke-width="1.2"/><rect x="214.32" y="265.1" width="3" height="3" fill="#fff" stroke="#1c1c1c" stroke-width="0.75"/><rect x="225.33" y="262.9" width="3" height="3" fill="none" stroke="#a4a4a4" stroke-width="1.2"/><rect x="225.33" y="262.9" width="3" height="3" fill="#fff" stroke="#1c1c1c" stroke-width="0.75"/><rect x="236.34" y="261.5" width="3" height="3" fill="none" stroke="#a4a4a4" stroke-width="1.2"/><rect x="236.34" y="261.5" width="3" height="3" fill="#fff" stroke="#1c1c1c" stroke-width="0.75"/><rect x="247.34" y="261" width="3" height="3" fill="none" stroke="#a4a4a4" stroke-width="1.2"/><rect x="247.34" y="261" width="3" height="3" fill="#fff" stroke="#1c1c1c" stroke-width="0.75"/><rect x="258.35" y="260.2" width="3" height="3" fill="none" stroke="#a4a4a4" stroke-width="1.2"/><rect x="258.35" y="260.2" width="3" height="3" fill="#fff" stroke="#1c1c1c" stroke-width="0.75"/><rect x="269.36" y="259.1" width="3" height="3" fill="none" stroke="#a4a4a4" stroke-width="1.2"/><rect x="269.36" y="259.1" width="3" height="3" fill="#fff" stroke="#1c1c1c" stroke-width="0.75"/><rect x="280.37" y="258.1" width="3" height="3" fill="none" stroke="#a4a4a4" stroke-width="1.2"/><rect x="280.37" y="258.1" width="3" height="3" fill="#fff" stroke="#1c1c1c" stroke-width="0.75"/><rect x="291.38" y="257" width="3" height="3" fill="none" stroke="#a4a4a4" stroke-width="1.2"/><rect x="291.38" y="257" width="3" height="3" fill="#fff" stroke="#1c1c1c" stroke-width="0.75"/><rect x="302.38" y="256.6" width="3" height="3" fill="none" stroke="#a4a4a4" stroke-width="1.2"/><rect x="302.38" y="256.6" width="3" height="3" fill="#fff" stroke="#1c1c1c" stroke-width="0.75"/><rect x="313.39" y="256.6" width="3" height="3" fill="none" stroke="#a4a4a4" stroke-width="1.2"/><rect x="313.39" y="256.6" width="3" height="3" fill="#fff" stroke="#1c1c1c" stroke-width="0.75"/><rect x="324.4" y="256.2" width="3" height="3" fill="none" stroke="#a4a4a4" stroke-width="1.2"/><rect x="324.4" y="256.2" width="3" height="3" fill="#fff" stroke="#1c1c1c" stroke-width="0.75"/>
<path d="M50.7,391.2 L61.71,391.2 L72.72,390.7 L83.72,390.5 L94.73,390.1 L105.74,389.7 L116.75,388 L127.76,383.3 L138.76,375.2 L149.77,363.2 L160.78,346.5 L171.79,326.5 L182.8,308 L193.8,293.6 L204.81,284.3 L215.82,278 L226.83,274.3 L237.84,272 L248.84,270.5 L259.85,269.2 L270.86,268.5 L281.87,268.1 L292.88,267.7 L303.88,267.5 L314.89,267.5 L325.9,267" fill="none" stroke="#ffbcbc" stroke-width="1.9" stroke-linejoin="round"/><path d="M50.7,391.2 L61.71,391.2 L72.72,390.7 L83.72,390.5 L94.73,390.1 L105.74,389.7 L116.75,388 L127.76,383.3 L138.76,375.2 L149.77,363.2 L160.78,346.5 L171.79,326.5 L182.8,308 L193.8,293.6 L204.81,284.3 L215.82,278 L226.83,274.3 L237.84,272 L248.84,270.5 L259.85,269.2 L270.86,268.5 L281.87,268.1 L292.88,267.7 L303.88,267.5 L314.89,267.5 L325.9,267" fill="none" stroke="#ff3030" stroke-width="1.0" stroke-linejoin="round"/><circle cx="50.7" cy="391.2" r="1.8" fill="#ff0000" stroke="#ffbcbc" stroke-width="1.0" paint-order="stroke"/><circle cx="61.71" cy="391.2" r="1.8" fill="#ff0000" stroke="#ffbcbc" stroke-width="1.0" paint-order="stroke"/><circle cx="72.72" cy="390.7" r="1.8" fill="#ff0000" stroke="#ffbcbc" stroke-width="1.0" paint-order="stroke"/><circle cx="83.72" cy="390.5" r="1.8" fill="#ff0000" stroke="#ffbcbc" stroke-width="1.0" paint-order="stroke"/><circle cx="94.73" cy="390.1" r="1.8" fill="#ff0000" stroke="#ffbcbc" stroke-width="1.0" paint-order="stroke"/><circle cx="105.74" cy="389.7" r="1.8" fill="#ff0000" stroke="#ffbcbc" stroke-width="1.0" paint-order="stroke"/><circle cx="116.75" cy="388" r="1.8" fill="#ff0000" stroke="#ffbcbc" stroke-width="1.0" paint-order="stroke"/><circle cx="127.76" cy="383.3" r="1.8" fill="#ff0000" stroke="#ffbcbc" stroke-width="1.0" paint-order="stroke"/><circle cx="138.76" cy="375.2" r="1.8" fill="#ff0000" stroke="#ffbcbc" stroke-width="1.0" paint-order="stroke"/><circle cx="149.77" cy="363.2" r="1.8" fill="#ff0000" stroke="#ffbcbc" stroke-width="1.0" paint-order="stroke"/><circle cx="160.78" cy="346.5" r="1.8" fill="#ff0000" stroke="#ffbcbc" stroke-width="1.0" paint-order="stroke"/><circle cx="171.79" cy="326.5" r="1.8" fill="#ff0000" stroke="#ffbcbc" stroke-width="1.0" paint-order="stroke"/><circle cx="182.8" cy="308" r="1.8" fill="#ff0000" stroke="#ffbcbc" stroke-width="1.0" paint-order="stroke"/><circle cx="193.8" cy="293.6" r="1.8" fill="#ff0000" stroke="#ffbcbc" stroke-width="1.0" paint-order="stroke"/><circle cx="204.81" cy="284.3" r="1.8" fill="#ff0000" stroke="#ffbcbc" stroke-width="1.0" paint-order="stroke"/><circle cx="215.82" cy="278" r="1.8" fill="#ff0000" stroke="#ffbcbc" stroke-width="1.0" paint-order="stroke"/><circle cx="226.83" cy="274.3" r="1.8" fill="#ff0000" stroke="#ffbcbc" stroke-width="1.0" paint-order="stroke"/><circle cx="237.84" cy="272" r="1.8" fill="#ff0000" stroke="#ffbcbc" stroke-width="1.0" paint-order="stroke"/><circle cx="248.84" cy="270.5" r="1.8" fill="#ff0000" stroke="#ffbcbc" stroke-width="1.0" paint-order="stroke"/><circle cx="259.85" cy="269.2" r="1.8" fill="#ff0000" stroke="#ffbcbc" stroke-width="1.0" paint-order="stroke"/><circle cx="270.86" cy="268.5" r="1.8" fill="#ff0000" stroke="#ffbcbc" stroke-width="1.0" paint-order="stroke"/><circle cx="281.87" cy="268.1" r="1.8" fill="#ff0000" stroke="#ffbcbc" stroke-width="1.0" paint-order="stroke"/><circle cx="292.88" cy="267.7" r="1.8" fill="#ff0000" stroke="#ffbcbc" stroke-width="1.0" paint-order="stroke"/><circle cx="303.88" cy="267.5" r="1.8" fill="#ff0000" stroke="#ffbcbc" stroke-width="1.0" paint-order="stroke"/><circle cx="314.89" cy="267.5" r="1.8" fill="#ff0000" stroke="#ffbcbc" stroke-width="1.0" paint-order="stroke"/><circle cx="325.9" cy="267" r="1.8" fill="#ff0000" stroke="#ffbcbc" stroke-width="1.0" paint-order="stroke"/>
<path d="M50.7,392.2 L61.71,392.7 L72.72,392.2 L83.72,391.8 L94.73,391.2 L105.74,391.2 L116.75,391.2 L127.76,389.5 L138.76,386.5 L149.77,380.5 L160.78,368.3 L171.79,352.2 L182.8,334.1 L193.8,318.7 L204.81,305.4 L215.82,295.9 L226.83,288.9 L237.84,284.4 L248.84,281.3 L259.85,278.8 L270.86,277.3 L281.87,276 L292.88,275.1 L303.88,275.1 L314.89,275.1 L325.9,274.5" fill="none" stroke="#bcbcff" stroke-width="1.9" stroke-linejoin="round"/><path d="M50.7,392.2 L61.71,392.7 L72.72,392.2 L83.72,391.8 L94.73,391.2 L105.74,391.2 L116.75,391.2 L127.76,389.5 L138.76,386.5 L149.77,380.5 L160.78,368.3 L171.79,352.2 L182.8,334.1 L193.8,318.7 L204.81,305.4 L215.82,295.9 L226.83,288.9 L237.84,284.4 L248.84,281.3 L259.85,278.8 L270.86,277.3 L281.87,276 L292.88,275.1 L303.88,275.1 L314.89,275.1 L325.9,274.5" fill="none" stroke="#3838ff" stroke-width="1.0" stroke-linejoin="round"/><polygon points="50.7,390.1 52.7,393.46 48.71,393.46" fill="#0000ff" stroke-linejoin="round" stroke="#bcbcff" stroke-width="1.0" paint-order="stroke"/><polygon points="61.71,390.6 63.7,393.96 59.71,393.96" fill="#0000ff" stroke-linejoin="round" stroke="#bcbcff" stroke-width="1.0" paint-order="stroke"/><polygon points="72.72,390.1 74.71,393.46 70.72,393.46" fill="#0000ff" stroke-linejoin="round" stroke="#bcbcff" stroke-width="1.0" paint-order="stroke"/><polygon points="83.72,389.7 85.72,393.06 81.73,393.06" fill="#0000ff" stroke-linejoin="round" stroke="#bcbcff" stroke-width="1.0" paint-order="stroke"/><polygon points="94.73,389.1 96.73,392.46 92.74,392.46" fill="#0000ff" stroke-linejoin="round" stroke="#bcbcff" stroke-width="1.0" paint-order="stroke"/><polygon points="105.74,389.1 107.73,392.46 103.74,392.46" fill="#0000ff" stroke-linejoin="round" stroke="#bcbcff" stroke-width="1.0" paint-order="stroke"/><polygon points="116.75,389.1 118.74,392.46 114.75,392.46" fill="#0000ff" stroke-linejoin="round" stroke="#bcbcff" stroke-width="1.0" paint-order="stroke"/><polygon points="127.76,387.4 129.75,390.76 125.76,390.76" fill="#0000ff" stroke-linejoin="round" stroke="#bcbcff" stroke-width="1.0" paint-order="stroke"/><polygon points="138.76,384.4 140.76,387.76 136.77,387.76" fill="#0000ff" stroke-linejoin="round" stroke="#bcbcff" stroke-width="1.0" paint-order="stroke"/><polygon points="149.77,378.4 151.77,381.76 147.78,381.76" fill="#0000ff" stroke-linejoin="round" stroke="#bcbcff" stroke-width="1.0" paint-order="stroke"/><polygon points="160.78,366.2 162.77,369.56 158.78,369.56" fill="#0000ff" stroke-linejoin="round" stroke="#bcbcff" stroke-width="1.0" paint-order="stroke"/><polygon points="171.79,350.1 173.78,353.46 169.79,353.46" fill="#0000ff" stroke-linejoin="round" stroke="#bcbcff" stroke-width="1.0" paint-order="stroke"/><polygon points="182.8,332 184.79,335.36 180.8,335.36" fill="#0000ff" stroke-linejoin="round" stroke="#bcbcff" stroke-width="1.0" paint-order="stroke"/><polygon points="193.8,316.6 195.8,319.96 191.81,319.96" fill="#0000ff" stroke-linejoin="round" stroke="#bcbcff" stroke-width="1.0" paint-order="stroke"/><polygon points="204.81,303.3 206.81,306.66 202.82,306.66" fill="#0000ff" stroke-linejoin="round" stroke="#bcbcff" stroke-width="1.0" paint-order="stroke"/><polygon points="215.82,293.8 217.81,297.16 213.82,297.16" fill="#0000ff" stroke-linejoin="round" stroke="#bcbcff" stroke-width="1.0" paint-order="stroke"/><polygon points="226.83,286.8 228.82,290.16 224.83,290.16" fill="#0000ff" stroke-linejoin="round" stroke="#bcbcff" stroke-width="1.0" paint-order="stroke"/><polygon points="237.84,282.3 239.83,285.66 235.84,285.66" fill="#0000ff" stroke-linejoin="round" stroke="#bcbcff" stroke-width="1.0" paint-order="stroke"/><polygon points="248.84,279.2 250.84,282.56 246.85,282.56" fill="#0000ff" stroke-linejoin="round" stroke="#bcbcff" stroke-width="1.0" paint-order="stroke"/><polygon points="259.85,276.7 261.85,280.06 257.86,280.06" fill="#0000ff" stroke-linejoin="round" stroke="#bcbcff" stroke-width="1.0" paint-order="stroke"/><polygon points="270.86,275.2 272.85,278.56 268.86,278.56" fill="#0000ff" stroke-linejoin="round" stroke="#bcbcff" stroke-width="1.0" paint-order="stroke"/><polygon points="281.87,273.9 283.86,277.26 279.87,277.26" fill="#0000ff" stroke-linejoin="round" stroke="#bcbcff" stroke-width="1.0" paint-order="stroke"/><polygon points="292.88,273 294.87,276.36 290.88,276.36" fill="#0000ff" stroke-linejoin="round" stroke="#bcbcff" stroke-width="1.0" paint-order="stroke"/><polygon points="303.88,273 305.88,276.36 301.89,276.36" fill="#0000ff" stroke-linejoin="round" stroke="#bcbcff" stroke-width="1.0" paint-order="stroke"/><polygon points="314.89,273 316.89,276.36 312.9,276.36" fill="#0000ff" stroke-linejoin="round" stroke="#bcbcff" stroke-width="1.0" paint-order="stroke"/><polygon points="325.9,272.4 327.89,275.76 323.9,275.76" fill="#0000ff" stroke-linejoin="round" stroke="#bcbcff" stroke-width="1.0" paint-order="stroke"/>
<path d="M403.3,391.8 L414.28,388.9 L425.25,389.6 L436.23,388.9 L447.2,383.9 L458.18,372.9 L469.16,355.4 L480.13,334.6 L491.11,310.3 L502.08,287.2 L513.06,268.8 L524.04,257.4 L535.01,250.3 L545.99,247.2 L556.96,245.1 L567.94,243.8 L578.92,242.5 L589.89,241.4 L600.87,240.8 L611.84,240.8 L622.82,240.8 L633.8,240.3 L644.77,239.9 L655.75,239.7 L666.72,239.3 L677.7,238.9" fill="none" stroke="#dcb0e0" stroke-width="1.9" stroke-linejoin="round"/><path d="M403.3,391.8 L414.28,388.9 L425.25,389.6 L436.23,388.9 L447.2,383.9 L458.18,372.9 L469.16,355.4 L480.13,334.6 L491.11,310.3 L502.08,287.2 L513.06,268.8 L524.04,257.4 L535.01,250.3 L545.99,247.2 L556.96,245.1 L567.94,243.8 L578.92,242.5 L589.89,241.4 L600.87,240.8 L611.84,240.8 L622.82,240.8 L633.8,240.3 L644.77,239.9 L655.75,239.7 L666.72,239.3 L677.7,238.9" fill="none" stroke="#a848b0" stroke-width="1.0" stroke-linejoin="round"/><circle cx="403.3" cy="391.8" r="2.1" fill="#800080" stroke="#dcb0e0" stroke-width="1.0" paint-order="stroke"/><circle cx="414.28" cy="388.9" r="2.1" fill="#800080" stroke="#dcb0e0" stroke-width="1.0" paint-order="stroke"/><circle cx="425.25" cy="389.6" r="2.1" fill="#800080" stroke="#dcb0e0" stroke-width="1.0" paint-order="stroke"/><circle cx="436.23" cy="388.9" r="2.1" fill="#800080" stroke="#dcb0e0" stroke-width="1.0" paint-order="stroke"/><circle cx="447.2" cy="383.9" r="2.1" fill="#800080" stroke="#dcb0e0" stroke-width="1.0" paint-order="stroke"/><circle cx="458.18" cy="372.9" r="2.1" fill="#800080" stroke="#dcb0e0" stroke-width="1.0" paint-order="stroke"/><circle cx="469.16" cy="355.4" r="2.1" fill="#800080" stroke="#dcb0e0" stroke-width="1.0" paint-order="stroke"/><circle cx="480.13" cy="334.6" r="2.1" fill="#800080" stroke="#dcb0e0" stroke-width="1.0" paint-order="stroke"/><circle cx="491.11" cy="310.3" r="2.1" fill="#800080" stroke="#dcb0e0" stroke-width="1.0" paint-order="stroke"/><circle cx="502.08" cy="287.2" r="2.1" fill="#800080" stroke="#dcb0e0" stroke-width="1.0" paint-order="stroke"/><circle cx="513.06" cy="268.8" r="2.1" fill="#800080" stroke="#dcb0e0" stroke-width="1.0" paint-order="stroke"/><circle cx="524.04" cy="257.4" r="2.1" fill="#800080" stroke="#dcb0e0" stroke-width="1.0" paint-order="stroke"/><circle cx="535.01" cy="250.3" r="2.1" fill="#800080" stroke="#dcb0e0" stroke-width="1.0" paint-order="stroke"/><circle cx="545.99" cy="247.2" r="2.1" fill="#800080" stroke="#dcb0e0" stroke-width="1.0" paint-order="stroke"/><circle cx="556.96" cy="245.1" r="2.1" fill="#800080" stroke="#dcb0e0" stroke-width="1.0" paint-order="stroke"/><circle cx="567.94" cy="243.8" r="2.1" fill="#800080" stroke="#dcb0e0" stroke-width="1.0" paint-order="stroke"/><circle cx="578.92" cy="242.5" r="2.1" fill="#800080" stroke="#dcb0e0" stroke-width="1.0" paint-order="stroke"/><circle cx="589.89" cy="241.4" r="2.1" fill="#800080" stroke="#dcb0e0" stroke-width="1.0" paint-order="stroke"/><circle cx="600.87" cy="240.8" r="2.1" fill="#800080" stroke="#dcb0e0" stroke-width="1.0" paint-order="stroke"/><circle cx="611.84" cy="240.8" r="2.1" fill="#800080" stroke="#dcb0e0" stroke-width="1.0" paint-order="stroke"/><circle cx="622.82" cy="240.8" r="2.1" fill="#800080" stroke="#dcb0e0" stroke-width="1.0" paint-order="stroke"/><circle cx="633.8" cy="240.3" r="2.1" fill="#800080" stroke="#dcb0e0" stroke-width="1.0" paint-order="stroke"/><circle cx="644.77" cy="239.9" r="2.1" fill="#800080" stroke="#dcb0e0" stroke-width="1.0" paint-order="stroke"/><circle cx="655.75" cy="239.7" r="2.1" fill="#800080" stroke="#dcb0e0" stroke-width="1.0" paint-order="stroke"/><circle cx="666.72" cy="239.3" r="2.1" fill="#800080" stroke="#dcb0e0" stroke-width="1.0" paint-order="stroke"/><circle cx="677.7" cy="238.9" r="2.1" fill="#800080" stroke="#dcb0e0" stroke-width="1.0" paint-order="stroke"/>
<path d="M403.3,392.6 L414.28,390.4 L425.25,391.1 L436.23,391.1 L447.2,388.9 L458.18,382 L469.16,370.8 L480.13,354.8 L491.11,334.1 L502.08,314 L513.06,296.5 L524.04,281.1 L535.01,270.3 L545.99,263.1 L556.96,258 L567.94,255 L578.92,253.1 L589.89,251.4 L600.87,250.3 L611.84,249.9 L622.82,249.9 L633.8,249.3 L644.77,249.1 L655.75,249.1 L666.72,248.4 L677.7,247.8" fill="none" stroke="#a0a0a0" stroke-width="1.6" stroke-linejoin="round"/><path d="M403.3,392.6 L414.28,390.4 L425.25,391.1 L436.23,391.1 L447.2,388.9 L458.18,382 L469.16,370.8 L480.13,354.8 L491.11,334.1 L502.08,314 L513.06,296.5 L524.04,281.1 L535.01,270.3 L545.99,263.1 L556.96,258 L567.94,255 L578.92,253.1 L589.89,251.4 L600.87,250.3 L611.84,249.9 L622.82,249.9 L633.8,249.3 L644.77,249.1 L655.75,249.1 L666.72,248.4 L677.7,247.8" fill="none" stroke="#1c1c1c" stroke-width="1.1" stroke-linejoin="round"/><rect x="401.8" y="391.1" width="3" height="3" fill="none" stroke="#a4a4a4" stroke-width="1.2"/><rect x="401.8" y="391.1" width="3" height="3" fill="#fff" stroke="#1c1c1c" stroke-width="0.75"/><rect x="412.78" y="388.9" width="3" height="3" fill="none" stroke="#a4a4a4" stroke-width="1.2"/><rect x="412.78" y="388.9" width="3" height="3" fill="#fff" stroke="#1c1c1c" stroke-width="0.75"/><rect x="423.75" y="389.6" width="3" height="3" fill="none" stroke="#a4a4a4" stroke-width="1.2"/><rect x="423.75" y="389.6" width="3" height="3" fill="#fff" stroke="#1c1c1c" stroke-width="0.75"/><rect x="434.73" y="389.6" width="3" height="3" fill="none" stroke="#a4a4a4" stroke-width="1.2"/><rect x="434.73" y="389.6" width="3" height="3" fill="#fff" stroke="#1c1c1c" stroke-width="0.75"/><rect x="445.7" y="387.4" width="3" height="3" fill="none" stroke="#a4a4a4" stroke-width="1.2"/><rect x="445.7" y="387.4" width="3" height="3" fill="#fff" stroke="#1c1c1c" stroke-width="0.75"/><rect x="456.68" y="380.5" width="3" height="3" fill="none" stroke="#a4a4a4" stroke-width="1.2"/><rect x="456.68" y="380.5" width="3" height="3" fill="#fff" stroke="#1c1c1c" stroke-width="0.75"/><rect x="467.66" y="369.3" width="3" height="3" fill="none" stroke="#a4a4a4" stroke-width="1.2"/><rect x="467.66" y="369.3" width="3" height="3" fill="#fff" stroke="#1c1c1c" stroke-width="0.75"/><rect x="478.63" y="353.3" width="3" height="3" fill="none" stroke="#a4a4a4" stroke-width="1.2"/><rect x="478.63" y="353.3" width="3" height="3" fill="#fff" stroke="#1c1c1c" stroke-width="0.75"/><rect x="489.61" y="332.6" width="3" height="3" fill="none" stroke="#a4a4a4" stroke-width="1.2"/><rect x="489.61" y="332.6" width="3" height="3" fill="#fff" stroke="#1c1c1c" stroke-width="0.75"/><rect x="500.58" y="312.5" width="3" height="3" fill="none" stroke="#a4a4a4" stroke-width="1.2"/><rect x="500.58" y="312.5" width="3" height="3" fill="#fff" stroke="#1c1c1c" stroke-width="0.75"/><rect x="511.56" y="295" width="3" height="3" fill="none" stroke="#a4a4a4" stroke-width="1.2"/><rect x="511.56" y="295" width="3" height="3" fill="#fff" stroke="#1c1c1c" stroke-width="0.75"/><rect x="522.54" y="279.6" width="3" height="3" fill="none" stroke="#a4a4a4" stroke-width="1.2"/><rect x="522.54" y="279.6" width="3" height="3" fill="#fff" stroke="#1c1c1c" stroke-width="0.75"/><rect x="533.51" y="268.8" width="3" height="3" fill="none" stroke="#a4a4a4" stroke-width="1.2"/><rect x="533.51" y="268.8" width="3" height="3" fill="#fff" stroke="#1c1c1c" stroke-width="0.75"/><rect x="544.49" y="261.6" width="3" height="3" fill="none" stroke="#a4a4a4" stroke-width="1.2"/><rect x="544.49" y="261.6" width="3" height="3" fill="#fff" stroke="#1c1c1c" stroke-width="0.75"/><rect x="555.46" y="256.5" width="3" height="3" fill="none" stroke="#a4a4a4" stroke-width="1.2"/><rect x="555.46" y="256.5" width="3" height="3" fill="#fff" stroke="#1c1c1c" stroke-width="0.75"/><rect x="566.44" y="253.5" width="3" height="3" fill="none" stroke="#a4a4a4" stroke-width="1.2"/><rect x="566.44" y="253.5" width="3" height="3" fill="#fff" stroke="#1c1c1c" stroke-width="0.75"/><rect x="577.42" y="251.6" width="3" height="3" fill="none" stroke="#a4a4a4" stroke-width="1.2"/><rect x="577.42" y="251.6" width="3" height="3" fill="#fff" stroke="#1c1c1c" stroke-width="0.75"/><rect x="588.39" y="249.9" width="3" height="3" fill="none" stroke="#a4a4a4" stroke-width="1.2"/><rect x="588.39" y="249.9" width="3" height="3" fill="#fff" stroke="#1c1c1c" stroke-width="0.75"/><rect x="599.37" y="248.8" width="3" height="3" fill="none" stroke="#a4a4a4" stroke-width="1.2"/><rect x="599.37" y="248.8" width="3" height="3" fill="#fff" stroke="#1c1c1c" stroke-width="0.75"/><rect x="610.34" y="248.4" width="3" height="3" fill="none" stroke="#a4a4a4" stroke-width="1.2"/><rect x="610.34" y="248.4" width="3" height="3" fill="#fff" stroke="#1c1c1c" stroke-width="0.75"/><rect x="621.32" y="248.4" width="3" height="3" fill="none" stroke="#a4a4a4" stroke-width="1.2"/><rect x="621.32" y="248.4" width="3" height="3" fill="#fff" stroke="#1c1c1c" stroke-width="0.75"/><rect x="632.3" y="247.8" width="3" height="3" fill="none" stroke="#a4a4a4" stroke-width="1.2"/><rect x="632.3" y="247.8" width="3" height="3" fill="#fff" stroke="#1c1c1c" stroke-width="0.75"/><rect x="643.27" y="247.6" width="3" height="3" fill="none" stroke="#a4a4a4" stroke-width="1.2"/><rect x="643.27" y="247.6" width="3" height="3" fill="#fff" stroke="#1c1c1c" stroke-width="0.75"/><rect x="654.25" y="247.6" width="3" height="3" fill="none" stroke="#a4a4a4" stroke-width="1.2"/><rect x="654.25" y="247.6" width="3" height="3" fill="#fff" stroke="#1c1c1c" stroke-width="0.75"/><rect x="665.22" y="246.9" width="3" height="3" fill="none" stroke="#a4a4a4" stroke-width="1.2"/><rect x="665.22" y="246.9" width="3" height="3" fill="#fff" stroke="#1c1c1c" stroke-width="0.75"/><rect x="676.2" y="246.3" width="3" height="3" fill="none" stroke="#a4a4a4" stroke-width="1.2"/><rect x="676.2" y="246.3" width="3" height="3" fill="#fff" stroke="#1c1c1c" stroke-width="0.75"/>
<path d="M403.3,392.3 L414.28,390.4 L425.25,391.1 L436.23,392 L447.2,390.3 L458.18,385.2 L469.16,374.9 L480.13,361.3 L491.11,344.8 L502.08,327.2 L513.06,311.3 L524.04,298.6 L535.01,286.3 L545.99,277.8 L556.96,271 L567.94,266.4 L578.92,263.7 L589.89,261.6 L600.87,260.1 L611.84,258.9 L622.82,258 L633.8,257.4 L644.77,256.9 L655.75,256.9 L666.72,256.7 L677.7,256.3" fill="none" stroke="#ffbcbc" stroke-width="1.9" stroke-linejoin="round"/><path d="M403.3,392.3 L414.28,390.4 L425.25,391.1 L436.23,392 L447.2,390.3 L458.18,385.2 L469.16,374.9 L480.13,361.3 L491.11,344.8 L502.08,327.2 L513.06,311.3 L524.04,298.6 L535.01,286.3 L545.99,277.8 L556.96,271 L567.94,266.4 L578.92,263.7 L589.89,261.6 L600.87,260.1 L611.84,258.9 L622.82,258 L633.8,257.4 L644.77,256.9 L655.75,256.9 L666.72,256.7 L677.7,256.3" fill="none" stroke="#ff3030" stroke-width="1.0" stroke-linejoin="round"/><circle cx="403.3" cy="392.3" r="1.8" fill="#ff0000" stroke="#ffbcbc" stroke-width="1.0" paint-order="stroke"/><circle cx="414.28" cy="390.4" r="1.8" fill="#ff0000" stroke="#ffbcbc" stroke-width="1.0" paint-order="stroke"/><circle cx="425.25" cy="391.1" r="1.8" fill="#ff0000" stroke="#ffbcbc" stroke-width="1.0" paint-order="stroke"/><circle cx="436.23" cy="392" r="1.8" fill="#ff0000" stroke="#ffbcbc" stroke-width="1.0" paint-order="stroke"/><circle cx="447.2" cy="390.3" r="1.8" fill="#ff0000" stroke="#ffbcbc" stroke-width="1.0" paint-order="stroke"/><circle cx="458.18" cy="385.2" r="1.8" fill="#ff0000" stroke="#ffbcbc" stroke-width="1.0" paint-order="stroke"/><circle cx="469.16" cy="374.9" r="1.8" fill="#ff0000" stroke="#ffbcbc" stroke-width="1.0" paint-order="stroke"/><circle cx="480.13" cy="361.3" r="1.8" fill="#ff0000" stroke="#ffbcbc" stroke-width="1.0" paint-order="stroke"/><circle cx="491.11" cy="344.8" r="1.8" fill="#ff0000" stroke="#ffbcbc" stroke-width="1.0" paint-order="stroke"/><circle cx="502.08" cy="327.2" r="1.8" fill="#ff0000" stroke="#ffbcbc" stroke-width="1.0" paint-order="stroke"/><circle cx="513.06" cy="311.3" r="1.8" fill="#ff0000" stroke="#ffbcbc" stroke-width="1.0" paint-order="stroke"/><circle cx="524.04" cy="298.6" r="1.8" fill="#ff0000" stroke="#ffbcbc" stroke-width="1.0" paint-order="stroke"/><circle cx="535.01" cy="286.3" r="1.8" fill="#ff0000" stroke="#ffbcbc" stroke-width="1.0" paint-order="stroke"/><circle cx="545.99" cy="277.8" r="1.8" fill="#ff0000" stroke="#ffbcbc" stroke-width="1.0" paint-order="stroke"/><circle cx="556.96" cy="271" r="1.8" fill="#ff0000" stroke="#ffbcbc" stroke-width="1.0" paint-order="stroke"/><circle cx="567.94" cy="266.4" r="1.8" fill="#ff0000" stroke="#ffbcbc" stroke-width="1.0" paint-order="stroke"/><circle cx="578.92" cy="263.7" r="1.8" fill="#ff0000" stroke="#ffbcbc" stroke-width="1.0" paint-order="stroke"/><circle cx="589.89" cy="261.6" r="1.8" fill="#ff0000" stroke="#ffbcbc" stroke-width="1.0" paint-order="stroke"/><circle cx="600.87" cy="260.1" r="1.8" fill="#ff0000" stroke="#ffbcbc" stroke-width="1.0" paint-order="stroke"/><circle cx="611.84" cy="258.9" r="1.8" fill="#ff0000" stroke="#ffbcbc" stroke-width="1.0" paint-order="stroke"/><circle cx="622.82" cy="258" r="1.8" fill="#ff0000" stroke="#ffbcbc" stroke-width="1.0" paint-order="stroke"/><circle cx="633.8" cy="257.4" r="1.8" fill="#ff0000" stroke="#ffbcbc" stroke-width="1.0" paint-order="stroke"/><circle cx="644.77" cy="256.9" r="1.8" fill="#ff0000" stroke="#ffbcbc" stroke-width="1.0" paint-order="stroke"/><circle cx="655.75" cy="256.9" r="1.8" fill="#ff0000" stroke="#ffbcbc" stroke-width="1.0" paint-order="stroke"/><circle cx="666.72" cy="256.7" r="1.8" fill="#ff0000" stroke="#ffbcbc" stroke-width="1.0" paint-order="stroke"/><circle cx="677.7" cy="256.3" r="1.8" fill="#ff0000" stroke="#ffbcbc" stroke-width="1.0" paint-order="stroke"/>
<path d="M403.3,393.3 L414.28,394 L425.25,393.1 L436.23,392.5 L447.2,392.3 L458.18,390.3 L469.16,386 L480.13,378.3 L491.11,365.8 L502.08,350.1 L513.06,334.5 L524.04,320.2 L535.01,307.2 L545.99,296.4 L556.96,286.8 L567.94,279.6 L578.92,275 L589.89,271.6 L600.87,269.5 L611.84,268 L622.82,265.9 L633.8,264.4 L644.77,263.7 L655.75,263.1 L666.72,263.1 L677.7,263.1" fill="none" stroke="#bcbcff" stroke-width="1.9" stroke-linejoin="round"/><path d="M403.3,393.3 L414.28,394 L425.25,393.1 L436.23,392.5 L447.2,392.3 L458.18,390.3 L469.16,386 L480.13,378.3 L491.11,365.8 L502.08,350.1 L513.06,334.5 L524.04,320.2 L535.01,307.2 L545.99,296.4 L556.96,286.8 L567.94,279.6 L578.92,275 L589.89,271.6 L600.87,269.5 L611.84,268 L622.82,265.9 L633.8,264.4 L644.77,263.7 L655.75,263.1 L666.72,263.1 L677.7,263.1" fill="none" stroke="#3838ff" stroke-width="1.0" stroke-linejoin="round"/><polygon points="403.3,391.2 405.3,394.56 401.31,394.56" fill="#0000ff" stroke-linejoin="round" stroke="#bcbcff" stroke-width="1.0" paint-order="stroke"/><polygon points="414.28,391.9 416.27,395.26 412.28,395.26" fill="#0000ff" stroke-linejoin="round" stroke="#bcbcff" stroke-width="1.0" paint-order="stroke"/><polygon points="425.25,391 427.25,394.36 423.26,394.36" fill="#0000ff" stroke-linejoin="round" stroke="#bcbcff" stroke-width="1.0" paint-order="stroke"/><polygon points="436.23,390.4 438.22,393.76 434.23,393.76" fill="#0000ff" stroke-linejoin="round" stroke="#bcbcff" stroke-width="1.0" paint-order="stroke"/><polygon points="447.2,390.2 449.2,393.56 445.21,393.56" fill="#0000ff" stroke-linejoin="round" stroke="#bcbcff" stroke-width="1.0" paint-order="stroke"/><polygon points="458.18,388.2 460.18,391.56 456.19,391.56" fill="#0000ff" stroke-linejoin="round" stroke="#bcbcff" stroke-width="1.0" paint-order="stroke"/><polygon points="469.16,383.9 471.15,387.26 467.16,387.26" fill="#0000ff" stroke-linejoin="round" stroke="#bcbcff" stroke-width="1.0" paint-order="stroke"/><polygon points="480.13,376.2 482.13,379.56 478.14,379.56" fill="#0000ff" stroke-linejoin="round" stroke="#bcbcff" stroke-width="1.0" paint-order="stroke"/><polygon points="491.11,363.7 493.1,367.06 489.11,367.06" fill="#0000ff" stroke-linejoin="round" stroke="#bcbcff" stroke-width="1.0" paint-order="stroke"/><polygon points="502.08,348 504.08,351.36 500.09,351.36" fill="#0000ff" stroke-linejoin="round" stroke="#bcbcff" stroke-width="1.0" paint-order="stroke"/><polygon points="513.06,332.4 515.06,335.76 511.07,335.76" fill="#0000ff" stroke-linejoin="round" stroke="#bcbcff" stroke-width="1.0" paint-order="stroke"/><polygon points="524.04,318.1 526.03,321.46 522.04,321.46" fill="#0000ff" stroke-linejoin="round" stroke="#bcbcff" stroke-width="1.0" paint-order="stroke"/><polygon points="535.01,305.1 537.01,308.46 533.02,308.46" fill="#0000ff" stroke-linejoin="round" stroke="#bcbcff" stroke-width="1.0" paint-order="stroke"/><polygon points="545.99,294.3 547.98,297.66 543.99,297.66" fill="#0000ff" stroke-linejoin="round" stroke="#bcbcff" stroke-width="1.0" paint-order="stroke"/><polygon points="556.96,284.7 558.96,288.06 554.97,288.06" fill="#0000ff" stroke-linejoin="round" stroke="#bcbcff" stroke-width="1.0" paint-order="stroke"/><polygon points="567.94,277.5 569.94,280.86 565.95,280.86" fill="#0000ff" stroke-linejoin="round" stroke="#bcbcff" stroke-width="1.0" paint-order="stroke"/><polygon points="578.92,272.9 580.91,276.26 576.92,276.26" fill="#0000ff" stroke-linejoin="round" stroke="#bcbcff" stroke-width="1.0" paint-order="stroke"/><polygon points="589.89,269.5 591.89,272.86 587.9,272.86" fill="#0000ff" stroke-linejoin="round" stroke="#bcbcff" stroke-width="1.0" paint-order="stroke"/><polygon points="600.87,267.4 602.86,270.76 598.87,270.76" fill="#0000ff" stroke-linejoin="round" stroke="#bcbcff" stroke-width="1.0" paint-order="stroke"/><polygon points="611.84,265.9 613.84,269.26 609.85,269.26" fill="#0000ff" stroke-linejoin="round" stroke="#bcbcff" stroke-width="1.0" paint-order="stroke"/><polygon points="622.82,263.8 624.82,267.16 620.83,267.16" fill="#0000ff" stroke-linejoin="round" stroke="#bcbcff" stroke-width="1.0" paint-order="stroke"/><polygon points="633.8,262.3 635.79,265.66 631.8,265.66" fill="#0000ff" stroke-linejoin="round" stroke="#bcbcff" stroke-width="1.0" paint-order="stroke"/><polygon points="644.77,261.6 646.77,264.96 642.78,264.96" fill="#0000ff" stroke-linejoin="round" stroke="#bcbcff" stroke-width="1.0" paint-order="stroke"/><polygon points="655.75,261 657.74,264.36 653.75,264.36" fill="#0000ff" stroke-linejoin="round" stroke="#bcbcff" stroke-width="1.0" paint-order="stroke"/><polygon points="666.72,261 668.72,264.36 664.73,264.36" fill="#0000ff" stroke-linejoin="round" stroke="#bcbcff" stroke-width="1.0" paint-order="stroke"/><polygon points="677.7,261 679.7,264.36 675.71,264.36" fill="#0000ff" stroke-linejoin="round" stroke="#bcbcff" stroke-width="1.0" paint-order="stroke"/>
<rect x="251.5" y="6.8" width="68.3" height="92.8" fill="#fff"/>
<path d="M254.2,20.4H275.6" stroke="#b040c0" stroke-width="1.4"/>
<circle cx="265" cy="20.4" r="1.89" fill="#800080" stroke="#dcb0e0" stroke-width="1.0" paint-order="stroke"/>
<text transform="translate(278.8 21) scale(1.0 0.86)" text-anchor="start" font-size="8.8" style="font-weight:bold;" fill="#000" stroke="#a8a8a8" stroke-width="0.4" paint-order="stroke" stroke-linejoin="round" textLength="25.0" lengthAdjust="spacingAndGlyphs" dominant-baseline="central"><tspan font-style="italic">σ</tspan>=0.95</text>
<path d="M254.2,43.1H275.6" stroke="#787878" stroke-width="1.0"/>
<rect x="263.65" y="41.75" width="2.7" height="2.7" fill="none" stroke="#a4a4a4" stroke-width="1.2"/><rect x="263.65" y="41.75" width="2.7" height="2.7" fill="#fff" stroke="#1c1c1c" stroke-width="0.75"/>
<text transform="translate(278.8 43.7) scale(1.0 0.86)" text-anchor="start" font-size="8.8" style="font-weight:bold;" fill="#000" stroke="#a8a8a8" stroke-width="0.4" paint-order="stroke" stroke-linejoin="round" textLength="25.0" lengthAdjust="spacingAndGlyphs" dominant-baseline="central"><tspan font-style="italic">σ</tspan>=0.85</text>
<path d="M254.2,64.9H275.6" stroke="#ff3a3a" stroke-width="1.7"/>
<circle cx="265" cy="64.9" r="1.62" fill="#ff0000" stroke="#ffbcbc" stroke-width="1.0" paint-order="stroke"/>
<text transform="translate(278.8 65.5) scale(1.0 0.86)" text-anchor="start" font-size="8.8" style="font-weight:bold;" fill="#000" stroke="#a8a8a8" stroke-width="0.4" paint-order="stroke" stroke-linejoin="round" textLength="25.0" lengthAdjust="spacingAndGlyphs" dominant-baseline="central"><tspan font-style="italic">σ</tspan>=0.80</text>
<path d="M254.2,87.4H275.6" stroke="#3030ff" stroke-width="1.8"/>
<polygon points="265,85.51 266.8,88.53 263.2,88.53" fill="#0000ff" stroke-linejoin="round" stroke="#bcbcff" stroke-width="1.0" paint-order="stroke"/>
<text transform="translate(278.8 88) scale(1.0 0.86)" text-anchor="start" font-size="8.8" style="font-weight:bold;" fill="#000" stroke="#a8a8a8" stroke-width="0.4" paint-order="stroke" stroke-linejoin="round" textLength="25.0" lengthAdjust="spacingAndGlyphs" dominant-baseline="central"><tspan font-style="italic">σ</tspan>=0.75</text>
<rect x="600.3" y="49.9" width="67.3" height="91.1" fill="#fff"/>
<path d="M603.5,62.2H623.9" stroke="#b040c0" stroke-width="1.4"/>
<circle cx="613.5" cy="62.2" r="1.89" fill="#800080" stroke="#dcb0e0" stroke-width="1.0" paint-order="stroke"/>
<text transform="translate(626.3 62.8) scale(1.0 0.86)" text-anchor="start" font-size="8.8" style="font-weight:bold;" fill="#000" stroke="#a8a8a8" stroke-width="0.4" paint-order="stroke" stroke-linejoin="round" textLength="26.2" lengthAdjust="spacingAndGlyphs" dominant-baseline="central"><tspan font-style="italic">σ</tspan>=0.95</text>
<path d="M603.5,84.2H623.9" stroke="#787878" stroke-width="1.0"/>
<rect x="612.15" y="82.85" width="2.7" height="2.7" fill="none" stroke="#a4a4a4" stroke-width="1.2"/><rect x="612.15" y="82.85" width="2.7" height="2.7" fill="#fff" stroke="#1c1c1c" stroke-width="0.75"/>
<text transform="translate(626.3 84.8) scale(1.0 0.86)" text-anchor="start" font-size="8.8" style="font-weight:bold;" fill="#000" stroke="#a8a8a8" stroke-width="0.4" paint-order="stroke" stroke-linejoin="round" textLength="26.2" lengthAdjust="spacingAndGlyphs" dominant-baseline="central"><tspan font-style="italic">σ</tspan>=0.85</text>
<path d="M603.5,106.4H623.9" stroke="#ff3a3a" stroke-width="1.7"/>
<circle cx="613.5" cy="106.4" r="1.62" fill="#ff0000" stroke="#ffbcbc" stroke-width="1.0" paint-order="stroke"/>
<text transform="translate(626.3 107) scale(1.0 0.86)" text-anchor="start" font-size="8.8" style="font-weight:bold;" fill="#000" stroke="#a8a8a8" stroke-width="0.4" paint-order="stroke" stroke-linejoin="round" textLength="26.2" lengthAdjust="spacingAndGlyphs" dominant-baseline="central"><tspan font-style="italic">σ</tspan>=0.80</text>
<path d="M603.5,128.5H623.9" stroke="#3030ff" stroke-width="1.8"/>
<polygon points="613.5,126.61 615.3,129.63 611.7,129.63" fill="#0000ff" stroke-linejoin="round" stroke="#bcbcff" stroke-width="1.0" paint-order="stroke"/>
<text transform="translate(626.3 129.1) scale(1.0 0.86)" text-anchor="start" font-size="8.8" style="font-weight:bold;" fill="#000" stroke="#a8a8a8" stroke-width="0.4" paint-order="stroke" stroke-linejoin="round" textLength="26.2" lengthAdjust="spacingAndGlyphs" dominant-baseline="central"><tspan font-style="italic">σ</tspan>=0.75</text>
<rect x="247.3" y="281.8" width="67.1" height="91" fill="#fff"/>
<path d="M251.2,294.6H271" stroke="#b040c0" stroke-width="1.4"/>
<circle cx="261.1" cy="294.6" r="1.89" fill="#800080" stroke="#dcb0e0" stroke-width="1.0" paint-order="stroke"/>
<text transform="translate(273.2 295.2) scale(1.0 0.86)" text-anchor="start" font-size="8.8" style="font-weight:bold;" fill="#000" stroke="#a8a8a8" stroke-width="0.4" paint-order="stroke" stroke-linejoin="round" textLength="25.8" lengthAdjust="spacingAndGlyphs" dominant-baseline="central"><tspan font-style="italic">σ</tspan>=0.95</text>
<path d="M251.2,316.7H271" stroke="#787878" stroke-width="1.0"/>
<rect x="259.75" y="315.35" width="2.7" height="2.7" fill="none" stroke="#a4a4a4" stroke-width="1.2"/><rect x="259.75" y="315.35" width="2.7" height="2.7" fill="#fff" stroke="#1c1c1c" stroke-width="0.75"/>
<text transform="translate(273.2 317.3) scale(1.0 0.86)" text-anchor="start" font-size="8.8" style="font-weight:bold;" fill="#000" stroke="#a8a8a8" stroke-width="0.4" paint-order="stroke" stroke-linejoin="round" textLength="25.8" lengthAdjust="spacingAndGlyphs" dominant-baseline="central"><tspan font-style="italic">σ</tspan>=0.85</text>
<path d="M251.2,338.4H271" stroke="#ff3a3a" stroke-width="1.7"/>
<circle cx="261.1" cy="338.4" r="1.62" fill="#ff0000" stroke="#ffbcbc" stroke-width="1.0" paint-order="stroke"/>
<text transform="translate(273.2 339) scale(1.0 0.86)" text-anchor="start" font-size="8.8" style="font-weight:bold;" fill="#000" stroke="#a8a8a8" stroke-width="0.4" paint-order="stroke" stroke-linejoin="round" textLength="25.8" lengthAdjust="spacingAndGlyphs" dominant-baseline="central"><tspan font-style="italic">σ</tspan>=0.80</text>
<path d="M251.2,360.6H271" stroke="#3030ff" stroke-width="1.8"/>
<polygon points="261.1,358.71 262.9,361.73 259.3,361.73" fill="#0000ff" stroke-linejoin="round" stroke="#bcbcff" stroke-width="1.0" paint-order="stroke"/>
<text transform="translate(273.2 361.2) scale(1.0 0.86)" text-anchor="start" font-size="8.8" style="font-weight:bold;" fill="#000" stroke="#a8a8a8" stroke-width="0.4" paint-order="stroke" stroke-linejoin="round" textLength="25.8" lengthAdjust="spacingAndGlyphs" dominant-baseline="central"><tspan font-style="italic">σ</tspan>=0.75</text>
<rect x="610.6" y="281.7" width="67.1" height="91.1" fill="#fff"/>
<path d="M613.7,295.2H634" stroke="#b040c0" stroke-width="1.4"/>
<circle cx="623.6" cy="295.2" r="1.89" fill="#800080" stroke="#dcb0e0" stroke-width="1.0" paint-order="stroke"/>
<text transform="translate(636.4 295.8) scale(1.0 0.86)" text-anchor="start" font-size="8.8" style="font-weight:bold;" fill="#000" stroke="#a8a8a8" stroke-width="0.4" paint-order="stroke" stroke-linejoin="round" textLength="26.1" lengthAdjust="spacingAndGlyphs" dominant-baseline="central"><tspan font-style="italic">σ</tspan>=0.95</text>
<path d="M613.7,316.8H634" stroke="#787878" stroke-width="1.0"/>
<rect x="622.25" y="315.45" width="2.7" height="2.7" fill="none" stroke="#a4a4a4" stroke-width="1.2"/><rect x="622.25" y="315.45" width="2.7" height="2.7" fill="#fff" stroke="#1c1c1c" stroke-width="0.75"/>
<text transform="translate(636.4 317.4) scale(1.0 0.86)" text-anchor="start" font-size="8.8" style="font-weight:bold;" fill="#000" stroke="#a8a8a8" stroke-width="0.4" paint-order="stroke" stroke-linejoin="round" textLength="26.1" lengthAdjust="spacingAndGlyphs" dominant-baseline="central"><tspan font-style="italic">σ</tspan>=0.85</text>
<path d="M613.7,338.4H634" stroke="#ff3a3a" stroke-width="1.7"/>
<circle cx="623.6" cy="338.4" r="1.62" fill="#ff0000" stroke="#ffbcbc" stroke-width="1.0" paint-order="stroke"/>
<text transform="translate(636.4 339) scale(1.0 0.86)" text-anchor="start" font-size="8.8" style="font-weight:bold;" fill="#000" stroke="#a8a8a8" stroke-width="0.4" paint-order="stroke" stroke-linejoin="round" textLength="26.1" lengthAdjust="spacingAndGlyphs" dominant-baseline="central"><tspan font-style="italic">σ</tspan>=0.80</text>
<path d="M613.7,360.5H634" stroke="#3030ff" stroke-width="1.8"/>
<polygon points="623.6,358.61 625.4,361.63 621.8,361.63" fill="#0000ff" stroke-linejoin="round" stroke="#bcbcff" stroke-width="1.0" paint-order="stroke"/>
<text transform="translate(636.4 361.1) scale(1.0 0.86)" text-anchor="start" font-size="8.8" style="font-weight:bold;" fill="#000" stroke="#a8a8a8" stroke-width="0.4" paint-order="stroke" stroke-linejoin="round" textLength="26.1" lengthAdjust="spacingAndGlyphs" dominant-baseline="central"><tspan font-style="italic">σ</tspan>=0.75</text>
</g>
<rect x="251.5" y="6.8" width="68.3" height="92.8" fill="none" stroke="#f2f2f2" stroke-width="1.5"/>
<rect x="600.3" y="49.9" width="67.3" height="91.1" fill="none" stroke="#f2f2f2" stroke-width="1.5"/>
<path d="M247.3,372.8H314.4V281.8H249.2" fill="none" stroke="#f2f2f2" stroke-width="1.5"/>
<rect x="610.6" y="281.7" width="67.1" height="91.1" fill="none" stroke="#f2f2f2" stroke-width="1.5"/>
</svg></body></html>
